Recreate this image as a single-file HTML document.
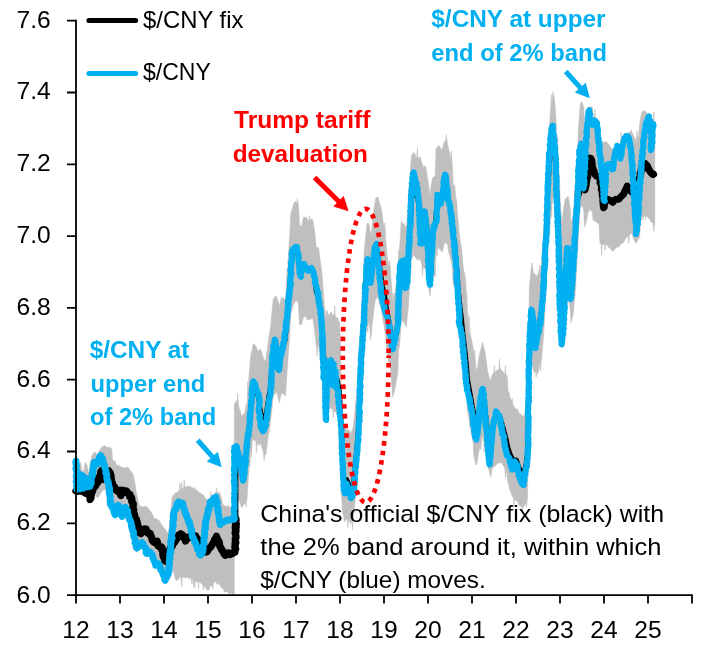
<!DOCTYPE html>
<html><head><meta charset="utf-8"><title>$/CNY fix and band</title>
<style>
html,body{margin:0;padding:0;background:#fff;}
svg{display:block;}
text{font-family:"Liberation Sans",sans-serif;font-size:23.7px;fill:#000;}
.ax text{font-size:24.6px;}
.b{font-weight:bold;}
.bl{fill:#00B0F0;}
.rd{fill:#FF0000;}
</style></head><body>
<svg width="706" height="647" viewBox="0 0 706 647">
<rect width="706" height="647" fill="#fff"/>
<path d="M75.9,457.7 L77.6,463.7 L79.3,470.5 L80.5,462.0 L81.9,470.5 L83.6,472.2 L85.3,462.0 L87.0,465.4 L88.7,473.9 L90.4,462.0 L92.1,455.2 L94.6,451.8 L97.2,455.2 L99.7,450.1 L102.3,446.7 L104.8,445.8 L107.4,447.5 L109.9,447.5 L111.6,448.4 L112.5,460.3 L115.0,461.1 L116.7,465.4 L119.3,465.4 L121.0,467.1 L124.4,467.9 L127.8,467.1 L130.3,470.5 L132.9,473.9 L134.6,480.7 L136.3,492.6 L138.0,501.1 L139.7,506.2 L143.1,507.0 L146.5,506.2 L149.0,509.6 L151.6,513.0 L154.1,518.1 L156.7,518.9 L159.2,520.6 L161.8,524.9 L164.3,528.3 L166.9,531.7 L168.6,533.4 L170.3,518.1 L172.0,497.7 L172.3,496.8 L175.7,492.5 L176.5,492.6 L177.4,491.7 L178.2,492.2 L179.1,490.1 L179.4,490.4 L179.9,483.3 L180.4,490.4 L180.8,490.0 L181.1,489.4 L181.6,482.2 L182.1,489.4 L182.5,488.3 L183.3,488.5 L183.7,487.7 L184.2,479.8 L184.7,487.7 L185.0,487.0 L185.9,486.6 L186.7,487.1 L187.6,485.8 L188.4,487.3 L189.3,485.9 L190.1,487.6 L191.0,486.6 L191.8,487.6 L192.7,488.6 L193.5,487.3 L194.4,489.0 L195.2,488.8 L196.1,490.0 L196.9,490.6 L197.8,490.8 L198.6,492.8 L199.5,492.5 L200.4,492.9 L201.4,494.1 L202.3,494.4 L203.3,495.0 L204.2,496.5 L205.2,498.2 L206.1,499.0 L207.0,499.8 L208.0,500.2 L209.0,499.4 L209.9,498.1 L210.4,497.3 L210.9,491.6 L211.4,497.3 L211.9,495.7 L212.8,495.7 L213.8,494.3 L214.8,493.4 L215.6,492.2 L216.0,493.1 L216.5,487.7 L217.0,493.1 L217.3,492.0 L218.2,493.0 L219.0,493.8 L219.9,492.5 L220.7,495.8 L221.6,498.4 L222.4,502.9 L223.3,505.3 L224.2,505.4 L225.2,506.3 L226.1,506.9 L227.1,505.7 L228.0,505.5 L229.0,507.0 L229.9,507.8 L230.8,506.9 L231.8,507.0 L232.1,507.0 L232.6,499.6 L233.1,507.0 L233.5,507.7 L234.3,507.0 L234.3,404.2 L235.2,403.0 L236.0,401.2 L236.9,400.8 L237.2,403.6 L237.7,393.4 L238.2,403.6 L238.6,405.6 L239.4,409.3 L240.3,410.5 L241.1,414.3 L242.0,416.0 L242.8,414.8 L243.7,414.2 L244.5,412.7 L245.4,410.3 L245.7,408.2 L246.2,403.8 L246.7,408.2 L247.1,405.9 L247.4,392.1 L247.9,381.4 L248.4,392.1 L248.8,378.4 L249.7,369.0 L250.5,358.0 L251.3,352.9 L252.2,349.9 L253.0,344.4 L253.9,343.9 L254.7,345.0 L255.6,346.0 L256.4,346.9 L257.3,350.3 L258.1,351.2 L259.0,350.3 L259.8,349.2 L260.7,349.5 L261.5,352.1 L262.4,354.3 L263.2,358.0 L264.1,359.9 L264.9,359.9 L265.8,361.4 L266.6,354.0 L267.5,348.9 L268.3,341.0 L269.1,335.9 L270.0,330.8 L270.9,324.0 L271.7,315.5 L272.5,306.0 L273.4,298.5 L274.3,298.5 L275.1,296.4 L276.0,296.0 L276.9,297.9 L277.7,300.2 L278.5,302.6 L279.4,307.0 L280.2,302.8 L281.1,298.5 L281.9,297.6 L282.8,298.5 L283.6,297.6 L284.5,300.0 L285.3,300.2 L285.9,293.4 L286.4,285.0 L286.8,272.2 L287.2,267.9 L287.8,272.2 L288.1,259.5 L289.0,246.3 L289.8,234.0 L290.7,215.3 L291.5,211.0 L292.4,208.4 L293.2,205.0 L294.1,202.9 L294.9,201.7 L295.8,201.7 L296.6,202.1 L297.0,202.8 L297.5,198.3 L298.0,202.8 L298.3,203.4 L298.9,213.4 L299.5,225.5 L300.2,225.3 L301.0,225.7 L301.7,225.5 L302.5,221.3 L303.4,217.8 L304.3,216.7 L305.1,218.0 L306.0,217.0 L306.9,218.3 L307.7,221.0 L308.5,220.5 L308.9,220.0 L309.4,215.8 L309.9,220.0 L310.2,219.5 L311.1,218.7 L311.9,220.2 L312.8,219.5 L313.6,225.5 L314.5,230.6 L315.4,238.0 L316.2,247.6 L317.0,247.6 L317.9,247.3 L318.7,248.4 L319.5,255.6 L320.4,261.2 L321.2,267.8 L322.1,274.8 L322.6,281.9 L323.2,290.0 L323.9,299.5 L324.5,308.0 L325.2,313.3 L326.0,318.0 L326.2,317.3 L326.7,310.4 L327.2,317.3 L326.8,316.7 L327.3,310.9 L327.8,316.7 L328.0,316.0 L328.8,313.9 L329.5,315.2 L330.2,313.0 L331.0,312.0 L331.8,313.1 L332.5,314.4 L333.2,315.0 L334.0,315.0 L334.2,315.8 L334.8,305.7 L335.2,315.8 L335.5,316.4 L336.2,317.2 L337.0,318.0 L337.8,318.4 L338.7,321.6 L339.5,322.0 L340.0,332.8 L340.5,345.0 L341.1,380.0 L341.2,398.0 L341.9,410.0 L342.5,420.0 L343.2,422.6 L343.8,427.1 L344.5,431.0 L345.2,429.9 L345.8,428.8 L346.5,428.0 L347.2,429.6 L347.8,430.0 L348.5,430.0 L349.3,430.4 L350.2,432.9 L351.0,433.0 L351.7,431.2 L352.5,429.6 L353.2,427.0 L354.0,419.6 L354.8,412.0 L355.6,403.0 L356.5,396.0 L357.2,386.0 L358.0,376.0 L358.8,364.7 L359.5,352.0 L360.2,336.0 L361.0,322.0 L361.8,307.2 L362.5,292.0 L363.0,281.6 L363.5,271.0 L364.2,251.0 L364.9,244.9 L365.6,237.0 L366.3,230.6 L367.0,224.0 L367.7,222.7 L368.4,223.4 L369.1,225.6 L369.9,229.8 L370.6,232.2 L371.3,237.0 L372.0,227.0 L372.7,220.1 L373.4,214.8 L374.1,208.4 L374.9,203.4 L375.6,198.5 L376.3,197.7 L377.0,197.6 L377.7,197.0 L378.4,198.6 L379.1,201.3 L379.8,204.3 L380.6,206.1 L381.3,208.4 L382.0,213.0 L382.7,219.8 L383.4,224.0 L384.1,227.0 L384.3,232.0 L384.8,222.8 L385.3,232.0 L385.5,237.0 L386.1,244.6 L386.7,251.0 L387.2,256.4 L387.7,259.7 L388.4,262.7 L389.0,265.3 L389.2,268.1 L389.8,260.3 L390.2,268.1 L390.5,271.0 L391.2,282.1 L391.9,290.1 L392.6,300.9 L392.9,297.9 L393.4,293.0 L393.9,297.9 L394.2,295.4 L395.0,291.8 L395.9,286.4 L396.9,279.6 L397.8,275.3 L398.6,251.0 L399.5,248.8 L400.4,236.4 L401.2,221.6 L402.1,222.3 L402.9,223.7 L403.8,223.3 L404.6,225.3 L405.5,226.3 L406.3,228.4 L407.1,219.6 L408.0,211.4 L408.4,196.9 L408.9,188.3 L409.4,196.9 L409.7,182.5 L410.5,169.1 L411.4,155.3 L412.3,154.9 L413.1,153.1 L414.0,152.7 L414.8,153.9 L415.7,156.5 L416.5,157.0 L416.9,157.8 L417.4,147.6 L417.9,157.8 L418.2,158.7 L419.1,157.6 L420.0,157.0 L420.8,159.3 L421.6,162.0 L422.5,164.4 L423.3,167.2 L424.1,167.4 L424.8,165.6 L425.6,166.3 L426.1,169.3 L426.7,172.3 L427.5,178.3 L428.4,184.2 L429.2,190.1 L430.1,196.0 L431.0,185.9 L431.9,182.1 L432.7,177.4 L433.5,177.4 L434.4,176.2 L435.2,175.7 L436.1,148.5 L436.9,147.0 L437.8,147.4 L438.6,145.0 L439.5,146.4 L440.3,147.6 L441.1,149.2 L442.0,150.2 L442.9,146.9 L443.7,143.4 L444.5,141.6 L445.4,140.0 L445.8,140.4 L446.2,134.4 L446.8,140.4 L447.1,140.8 L448.0,145.9 L448.8,150.2 L449.6,152.8 L450.5,157.0 L450.9,160.4 L451.4,151.2 L451.9,160.4 L452.2,163.8 L453.1,184.2 L454.0,185.1 L454.8,186.0 L455.6,196.0 L456.0,204.5 L456.5,199.3 L457.0,204.5 L457.3,213.0 L457.9,219.3 L458.5,225.0 L459.2,232.9 L459.9,238.6 L460.8,244.0 L461.6,248.8 L462.3,256.9 L463.0,265.0 L463.8,271.1 L464.7,274.1 L465.5,280.0 L466.2,289.6 L466.9,297.0 L467.5,314.0 L468.2,319.8 L468.5,325.3 L469.0,315.7 L469.5,325.3 L469.7,331.0 L470.6,335.8 L471.4,339.2 L472.2,342.8 L473.1,348.0 L474.0,353.9 L474.3,359.9 L474.8,350.1 L475.3,359.9 L475.6,364.9 L476.5,371.8 L477.4,367.6 L478.2,362.3 L479.1,356.5 L480.0,351.9 L480.8,349.9 L481.6,346.5 L482.5,342.0 L483.3,345.4 L484.2,349.1 L485.0,351.4 L485.9,358.4 L486.7,364.6 L487.6,371.8 L488.4,374.3 L489.3,378.1 L490.1,382.0 L491.0,379.0 L491.8,376.1 L492.7,374.3 L493.6,372.7 L493.9,372.6 L494.4,365.7 L494.9,372.6 L495.2,372.8 L496.1,371.0 L496.9,370.3 L497.8,370.0 L498.6,369.8 L499.0,368.9 L499.5,359.1 L500.0,368.9 L500.3,368.4 L501.1,369.5 L502.0,370.6 L502.9,372.1 L503.7,372.6 L504.6,374.3 L504.9,375.5 L505.4,365.4 L505.9,375.5 L506.3,377.0 L506.6,383.6 L507.1,374.9 L507.6,383.6 L508.0,390.2 L508.8,392.2 L509.7,396.4 L510.5,398.7 L511.4,400.4 L511.7,403.2 L512.2,398.1 L512.7,403.2 L513.1,405.5 L514.0,405.9 L514.8,407.7 L515.6,408.5 L516.5,409.0 L517.4,409.4 L518.2,410.4 L519.0,413.6 L519.9,414.0 L520.8,413.9 L521.6,414.6 L522.4,416.4 L523.3,415.7 L524.1,415.7 L525.0,412.9 L525.8,412.3 L526.6,409.4 L527.5,405.5 L527.8,380.0 L528.3,340.0 L529.0,310.0 L529.5,285.0 L530.3,278.1 L531.1,269.5 L531.9,263.0 L532.7,267.8 L533.5,274.0 L534.4,273.6 L535.3,275.0 L536.1,275.4 L537.0,275.2 L537.8,277.0 L538.5,272.4 L539.3,269.4 L540.0,265.0 L540.3,274.0 L541.1,265.8 L542.0,256.6 L542.6,247.7 L543.3,240.8 L544.0,229.3 L544.6,216.8 L545.5,193.8 L546.3,176.8 L547.2,160.3 L548.0,144.5 L548.9,133.1 L549.7,122.6 L550.6,110.5 L550.9,104.3 L551.4,94.7 L551.9,104.3 L552.3,98.9 L553.1,91.8 L554.0,96.7 L554.8,102.0 L555.6,114.2 L556.5,127.5 L556.9,144.5 L557.4,135.9 L557.9,144.5 L558.2,161.5 L558.5,178.2 L559.0,173.0 L559.5,178.2 L559.9,195.0 L560.8,209.3 L561.6,224.0 L562.5,217.9 L563.3,211.0 L564.1,205.3 L565.0,200.0 L565.9,198.0 L566.7,198.9 L567.5,196.5 L568.4,196.8 L569.2,202.1 L570.1,208.7 L571.0,224.0 L571.8,219.4 L572.7,216.7 L573.5,212.0 L574.4,200.0 L575.2,193.8 L576.0,178.2 L576.9,161.5 L577.8,145.6 L578.6,127.5 L579.5,114.8 L580.3,103.7 L581.1,102.3 L582.0,102.0 L582.9,105.1 L583.7,107.0 L584.6,124.0 L585.5,121.4 L586.3,119.0 L587.1,114.3 L588.0,108.8 L588.8,107.2 L589.7,107.5 L590.5,106.2 L591.4,107.1 L592.2,107.0 L593.1,117.3 L594.0,117.4 L594.3,118.2 L594.8,109.4 L595.3,118.2 L595.6,118.7 L596.5,119.0 L597.3,119.0 L598.2,121.1 L599.0,121.5 L599.9,141.0 L600.8,142.1 L601.6,142.3 L602.4,141.7 L603.3,142.8 L604.1,142.2 L605.0,142.2 L605.9,141.7 L606.7,142.0 L607.6,142.9 L608.4,144.4 L609.2,144.7 L610.1,146.2 L610.9,148.5 L611.8,148.0 L612.6,149.6 L613.5,147.7 L614.3,147.0 L615.2,146.2 L616.0,144.4 L616.9,145.1 L617.7,144.5 L618.6,144.3 L619.4,144.0 L620.3,142.8 L620.6,142.0 L621.1,132.4 L621.6,142.0 L622.0,141.9 L622.9,139.2 L623.7,139.4 L624.6,138.3 L625.4,137.2 L626.2,134.5 L627.1,134.3 L627.9,133.2 L628.8,132.1 L629.6,132.6 L630.5,132.3 L631.3,130.0 L632.1,132.8 L632.8,133.7 L633.6,136.0 L634.4,137.2 L635.3,138.9 L636.1,141.0 L636.5,139.3 L637.0,130.5 L637.5,139.3 L637.8,137.4 L638.7,136.0 L639.5,126.4 L640.4,119.0 L641.2,115.4 L642.1,112.2 L642.9,111.0 L643.8,111.0 L644.6,111.0 L645.5,111.8 L646.3,112.2 L647.1,114.6 L648.0,114.7 L649.0,116.8 L649.9,116.5 L650.9,117.3 L651.9,119.5 L652.9,119.2 L653.3,121.3 L653.8,111.9 L654.3,121.3 L654.8,122.4 L654.8,225.4 L654.3,224.4 L653.8,231.5 L653.3,224.4 L652.9,222.9 L651.9,222.2 L650.9,222.2 L649.9,219.1 L649.0,218.4 L648.0,218.0 L647.1,216.5 L646.3,215.6 L646.0,215.6 L645.5,219.6 L645.0,215.6 L644.6,214.7 L643.8,216.8 L643.4,215.6 L642.9,219.9 L642.4,215.6 L642.1,215.6 L641.2,220.0 L640.4,222.1 L640.0,230.3 L639.5,237.9 L639.0,230.3 L638.7,238.5 L637.8,239.9 L637.0,242.3 L636.1,243.3 L635.3,241.7 L634.4,240.9 L633.6,238.5 L632.8,236.4 L632.1,234.2 L631.3,232.7 L630.5,234.2 L629.6,235.2 L629.3,235.8 L628.8,243.4 L628.3,235.8 L627.9,236.5 L627.1,236.8 L626.2,238.6 L625.4,238.2 L624.6,240.0 L623.7,241.7 L622.9,243.6 L622.0,242.8 L621.1,243.4 L620.3,245.0 L619.4,246.4 L618.6,247.0 L617.7,246.6 L616.9,247.2 L616.0,248.3 L615.2,248.3 L614.3,249.7 L613.5,250.5 L612.6,251.5 L611.8,250.1 L610.9,249.5 L610.1,248.3 L609.2,247.3 L608.4,247.3 L607.6,246.0 L606.7,244.2 L605.9,245.0 L605.5,244.6 L605.0,250.4 L604.5,244.6 L604.1,244.5 L603.3,245.0 L602.4,243.5 L602.1,244.1 L601.6,255.1 L601.1,244.1 L600.8,243.9 L599.9,243.3 L599.0,224.5 L598.2,223.5 L597.3,223.0 L596.5,222.1 L595.6,222.2 L594.8,220.4 L594.0,219.9 L593.1,220.5 L592.2,210.6 L591.4,211.4 L590.5,209.8 L589.7,209.5 L588.8,211.8 L588.0,212.3 L587.1,217.7 L586.3,222.1 L585.5,223.7 L584.6,226.9 L583.7,210.6 L582.9,207.4 L582.0,205.8 L581.1,206.5 L580.3,207.4 L579.5,219.5 L578.6,230.3 L577.8,247.1 L576.9,263.0 L576.0,278.9 L575.2,294.0 L574.4,300.0 L573.5,311.5 L572.7,316.4 L571.8,319.3 L571.0,323.0 L570.1,308.3 L569.2,303.6 L568.4,296.9 L567.5,298.1 L567.2,298.4 L566.7,306.9 L566.2,298.4 L565.9,298.4 L565.0,300.0 L564.6,305.7 L564.1,312.2 L563.6,305.7 L563.3,311.3 L562.5,316.2 L561.6,323.0 L560.8,309.7 L559.9,295.2 L559.0,279.5 L558.2,263.0 L557.4,246.9 L556.5,230.3 L555.6,218.7 L554.8,205.8 L554.0,200.2 L553.1,196.0 L552.3,201.0 L551.9,208.0 L551.4,217.3 L550.9,208.0 L550.6,214.0 L550.2,224.9 L549.7,233.7 L549.2,224.9 L548.9,236.4 L548.0,246.6 L547.2,263.5 L546.3,278.2 L545.5,294.0 L544.6,316.2 L544.0,327.6 L543.3,339.2 L542.6,345.9 L542.0,354.4 L541.1,362.3 L540.3,371.0 L540.0,362.4 L539.3,366.2 L538.5,370.2 L537.8,373.9 L537.0,372.6 L536.6,372.7 L536.1,377.2 L535.6,372.7 L535.3,372.0 L534.4,372.2 L533.5,371.1 L532.7,365.2 L531.9,360.5 L531.1,367.5 L530.3,375.7 L529.5,381.6 L529.0,405.7 L528.3,434.5 L527.8,472.9 L527.5,497.4 L527.1,500.7 L526.6,507.3 L526.1,500.7 L525.8,503.9 L525.0,505.2 L524.1,506.3 L523.3,507.2 L522.9,506.8 L522.4,511.5 L521.9,506.8 L521.6,506.5 L520.8,506.6 L519.9,505.6 L519.0,505.0 L518.2,502.6 L517.4,501.6 L516.5,500.8 L515.6,500.7 L514.8,498.8 L514.5,498.2 L514.0,507.5 L513.5,498.2 L513.1,497.4 L512.2,496.1 L511.4,493.8 L510.5,490.9 L509.7,489.2 L508.8,484.7 L508.0,482.7 L507.1,475.7 L506.3,470.0 L505.9,468.6 L505.4,477.4 L504.9,468.6 L504.6,467.6 L503.7,465.8 L502.9,465.3 L502.0,462.8 L501.1,463.5 L500.3,461.8 L499.5,463.2 L498.6,463.0 L497.8,462.6 L496.9,464.7 L496.1,464.3 L495.2,466.1 L494.4,466.4 L493.6,467.2 L492.7,467.4 L491.8,469.9 L491.5,472.4 L491.0,476.9 L490.5,472.4 L490.1,474.8 L489.3,471.4 L488.4,468.1 L487.6,465.0 L486.7,459.2 L485.9,452.3 L485.0,445.4 L484.7,442.4 L484.2,451.8 L483.7,442.4 L483.3,439.1 L482.5,436.4 L481.6,439.0 L481.3,443.4 L480.8,449.9 L480.3,443.4 L480.0,446.8 L479.1,450.3 L478.2,454.6 L477.4,460.9 L476.5,465.0 L476.1,459.3 L475.6,464.8 L475.1,459.3 L475.3,453.6 L474.8,460.4 L474.3,453.6 L474.5,447.9 L474.0,457.3 L473.5,447.9 L473.1,442.2 L472.2,437.3 L471.4,434.3 L470.6,429.3 L469.7,425.8 L469.0,419.2 L468.2,414.8 L467.5,409.5 L466.9,393.2 L466.2,386.1 L465.5,376.8 L464.7,371.7 L463.8,366.1 L463.0,362.4 L462.3,354.8 L461.6,346.9 L460.8,342.4 L459.9,337.1 L459.2,329.5 L458.5,324.0 L457.9,317.6 L457.3,312.5 L456.5,303.5 L455.6,296.1 L454.8,286.5 L454.0,284.5 L453.1,284.8 L452.2,265.2 L451.4,261.4 L450.5,258.7 L449.6,255.3 L448.8,252.1 L448.0,246.9 L447.1,243.1 L446.2,243.5 L445.4,242.3 L444.5,243.2 L443.7,245.6 L442.9,249.6 L442.0,252.1 L441.1,250.8 L440.3,249.6 L439.5,249.4 L438.6,247.1 L437.8,247.6 L437.4,249.4 L436.9,255.8 L436.4,249.4 L436.1,250.5 L435.2,276.6 L434.4,276.4 L433.5,276.6 L432.7,278.3 L431.9,282.7 L431.0,286.4 L430.1,296.1 L429.2,291.4 L428.4,284.8 L427.5,280.2 L426.7,273.4 L426.1,270.8 L425.6,267.6 L424.8,269.0 L424.1,268.0 L423.3,268.5 L423.0,266.0 L422.5,275.7 L422.0,266.0 L421.6,263.5 L420.8,261.3 L420.0,258.7 L419.1,259.1 L418.2,260.3 L417.4,260.3 L416.5,258.7 L415.7,257.3 L414.8,256.5 L414.0,254.5 L413.1,256.5 L412.3,257.1 L411.4,257.0 L410.5,271.1 L409.7,283.2 L408.9,297.8 L408.0,310.9 L407.1,318.6 L406.3,327.3 L405.5,324.8 L404.6,323.9 L403.8,322.4 L402.9,320.8 L402.1,320.9 L401.2,320.7 L400.4,333.7 L399.5,346.9 L398.6,349.0 L397.8,372.3 L396.9,377.6 L395.9,383.5 L395.0,388.2 L394.2,391.9 L393.4,394.4 L392.6,396.9 L391.9,386.7 L391.2,378.6 L390.5,368.2 L389.8,365.2 L389.0,362.7 L388.4,360.4 L387.7,357.3 L387.2,352.4 L386.7,349.0 L386.1,342.8 L385.5,335.5 L384.8,331.6 L384.1,325.9 L383.4,321.5 L382.7,319.0 L382.0,313.4 L381.3,308.0 L380.6,306.4 L379.8,304.0 L379.1,301.2 L378.4,299.0 L377.7,297.1 L377.0,296.7 L376.3,299.2 L375.6,298.5 L374.9,302.8 L374.1,308.0 L373.4,315.1 L372.7,319.5 L372.0,325.9 L371.3,335.5 L371.1,332.1 L370.6,339.7 L370.1,332.1 L369.9,328.6 L369.1,324.4 L368.4,322.4 L368.2,322.7 L367.7,332.7 L367.2,322.7 L367.0,323.0 L366.3,330.5 L365.6,335.5 L364.9,341.1 L364.2,349.0 L363.5,368.2 L363.0,377.9 L362.5,388.4 L361.8,402.4 L361.0,417.2 L360.8,431.6 L360.2,438.6 L359.8,431.6 L359.5,446.0 L358.8,458.6 L358.0,469.1 L357.2,478.5 L356.5,488.3 L355.6,495.6 L354.8,503.7 L354.0,511.6 L353.2,518.1 L353.0,520.0 L352.5,530.0 L352.0,520.0 L351.7,520.9 L351.0,523.8 L350.2,521.7 L349.3,521.8 L348.5,520.9 L348.3,520.3 L347.8,527.4 L347.3,520.3 L347.2,519.3 L346.5,519.0 L345.8,519.7 L345.2,520.3 L344.5,521.9 L343.8,517.6 L343.2,514.5 L342.5,511.3 L341.9,500.7 L341.2,490.2 L341.1,472.9 L340.5,439.3 L340.0,429.2 L339.5,417.2 L338.7,417.1 L337.8,414.4 L337.0,413.3 L336.2,412.0 L335.5,412.2 L334.8,411.9 L334.0,410.5 L333.8,409.7 L333.2,417.6 L332.8,409.7 L332.5,408.4 L331.8,409.2 L331.0,407.6 L330.2,408.7 L329.5,408.8 L328.8,411.3 L328.0,411.4 L327.3,411.2 L327.2,412.7 L326.7,418.3 L326.2,412.7 L326.0,413.3 L325.2,409.3 L324.5,403.7 L323.9,395.7 L323.2,386.4 L322.6,379.1 L322.1,371.8 L321.2,366.4 L320.4,358.8 L319.5,353.3 L318.7,346.5 L317.9,346.8 L317.5,346.0 L317.0,355.9 L316.5,346.0 L316.2,345.7 L315.4,337.3 L314.5,329.4 L313.6,323.3 L312.8,318.7 L311.9,317.8 L311.1,319.3 L310.2,318.7 L309.4,320.2 L308.5,318.9 L307.7,320.1 L306.9,319.4 L306.0,316.3 L305.1,315.8 L304.3,317.2 L303.4,317.1 L302.5,321.3 L301.7,324.5 L301.0,323.6 L300.2,325.1 L299.5,324.5 L298.9,313.5 L298.3,303.2 L297.5,301.6 L296.6,301.0 L295.8,301.6 L294.9,301.6 L294.1,303.3 L293.2,304.8 L292.4,308.7 L291.5,311.6 L290.7,314.7 L289.8,332.6 L289.0,345.2 L288.1,357.1 L287.2,369.7 L286.4,381.6 L285.9,389.1 L285.3,396.2 L284.5,395.2 L283.6,393.7 L282.8,393.6 L281.9,393.8 L281.1,394.6 L280.2,398.1 L279.4,402.8 L278.5,399.4 L277.7,396.2 L276.9,393.8 L276.0,392.2 L275.1,392.8 L274.3,395.0 L273.4,394.6 L272.5,403.4 L271.7,410.9 L270.9,417.6 L270.0,425.6 L269.1,431.2 L268.3,435.4 L267.5,442.0 L266.6,448.3 L265.8,455.0 L264.9,454.9 L264.6,452.9 L264.1,460.7 L263.6,452.9 L263.2,451.8 L262.4,448.4 L261.5,446.3 L260.7,443.6 L259.8,443.2 L259.0,445.1 L258.1,445.2 L257.3,443.1 L256.9,441.9 L256.4,452.7 L255.9,441.9 L255.6,440.2 L254.7,440.7 L253.9,440.0 L253.0,438.7 L252.2,442.3 L251.8,447.4 L251.3,457.1 L250.8,447.4 L250.5,451.8 L250.2,461.6 L249.7,467.3 L249.2,461.6 L248.8,471.4 L247.9,484.0 L247.1,497.8 L246.7,500.0 L246.2,507.1 L245.7,500.0 L245.4,502.9 L244.5,504.3 L243.7,504.7 L242.8,505.4 L242.0,507.5 L241.1,506.5 L240.3,503.7 L239.4,501.1 L238.6,499.0 L237.7,496.7 L236.9,492.9 L236.0,494.4 L235.2,494.1 L234.3,496.2 L234.3,593.7 L233.4,594.3 L232.5,594.3 L231.5,592.8 L230.6,593.5 L230.2,592.8 L229.7,594.3 L229.2,592.8 L228.7,593.4 L227.8,592.3 L226.9,591.2 L225.9,592.0 L225.0,592.0 L224.1,591.7 L223.3,588.8 L222.4,587.4 L221.6,588.6 L220.7,586.0 L219.9,585.2 L219.0,584.3 L218.2,583.1 L217.3,584.5 L216.5,582.9 L215.6,582.0 L214.8,581.8 L213.8,582.4 L213.3,584.2 L212.8,589.5 L212.3,584.2 L211.9,586.1 L210.9,585.5 L209.9,586.9 L209.0,590.1 L208.0,590.3 L207.0,590.1 L206.1,588.6 L205.2,587.8 L204.2,585.9 L203.8,585.6 L203.3,590.2 L202.8,585.6 L202.3,584.6 L201.4,583.8 L200.4,582.5 L199.5,581.8 L199.0,581.4 L198.5,588.7 L198.0,581.4 L197.6,582.0 L196.7,581.4 L195.7,581.4 L195.3,579.9 L194.8,587.5 L194.3,579.9 L194.3,579.5 L193.8,587.6 L193.3,579.5 L192.9,579.8 L192.4,578.8 L191.9,584.2 L191.4,578.8 L191.0,578.4 L190.1,577.6 L189.1,579.3 L188.2,577.3 L187.3,577.5 L186.4,577.4 L185.4,578.1 L184.5,577.4 L183.6,577.2 L182.6,576.9 L182.2,577.6 L181.7,586.8 L181.2,577.6 L180.8,577.5 L179.9,577.2 L179.1,578.4 L178.2,579.1 L177.4,580.2 L176.5,580.6 L175.7,580.1 L172.3,566.5 L171.4,569.9 L165.5,580.1 L145.6,548.7 L137.1,548.7 L133.7,535.1 L128.6,516.4 L121.0,516.4 L110.8,504.5 L106.5,491.7 L104.0,489.2 L100.6,493.4 L98.0,497.7 L93.8,495.1 L91.2,492.6 L88.7,489.2 L87.0,491.7 L75.9,491.7Z" fill="#BFBFBF" stroke="#BFBFBF" stroke-width="0.6" stroke-linejoin="round"/>
<path d="M236.1,519.0 L236.1,449.0 L236.9,447.2 L239.4,456.5 L242.0,468.5 L244.5,465.4 L247.1,446.6 L248.8,428.2 L250.5,409.1 L253.0,387.6 L255.6,389.4 L258.1,395.8 L260.7,411.6 L263.2,419.5 L265.8,416.3 L268.3,398.9 L270.0,388.8 L271.7,367.8 L273.4,347.4 L276.0,345.0 L277.7,357.2 L279.4,360.7 L281.1,350.7 L283.6,344.9 L285.3,339.9 L286.4,327.8 L288.1,306.6 L289.8,286.3 L290.7,270.4 L293.2,252.0 L295.8,249.2 L298.3,254.8 L299.5,271.1 L301.7,273.0 L303.4,266.2 L306.0,267.1 L307.7,270.7 L310.2,268.8 L312.8,270.0 L314.5,279.0 L316.2,291.7 L318.7,299.0 L320.4,309.3 L322.1,328.3 L323.2,351.4 L324.5,360.3 L326.0,391.5 L328.0,373.0 L331.0,359.9 L334.0,372.2 L337.0,378.7 L339.5,391.2 L340.5,406.7 L341.1,426.2 L341.2,434.8 L342.5,463.1 L344.5,485.7 L346.5,479.3 L348.5,483.3 L351.0,489.4 L353.2,485.1 L354.8,468.3 L356.5,450.3 L358.0,432.6 L359.5,406.1 L361.0,366.9 L362.5,339.3 L363.5,323.7 L364.2,308.4 L365.6,285.2 L367.0,268.0 L368.4,269.5 L369.9,279.4 L371.3,279.4 L372.0,272.1 L374.1,255.8 L375.6,247.2 L377.7,252.3 L379.1,261.4 L381.3,277.2 L382.7,286.7 L384.1,292.9 L385.5,300.4 L386.7,308.7 L387.7,314.0 L389.0,320.4 L390.5,329.3 L392.6,348.9 L395.0,340.0 L397.8,323.8 L398.6,300.0 L399.5,287.8 L401.2,266.8 L403.8,267.1 L406.3,282.0 L408.0,263.8 L409.7,232.4 L411.4,200.2 L414.0,187.7 L416.5,195.3 L418.2,202.0 L420.0,217.3 L421.6,229.7 L423.3,227.4 L425.6,217.2 L426.7,225.6 L428.4,249.4 L430.1,265.1 L431.0,252.6 L432.7,231.5 L435.2,225.1 L436.1,212.4 L438.6,197.0 L440.3,200.5 L442.0,198.9 L443.7,189.1 L445.4,182.3 L447.1,190.5 L448.8,201.0 L450.5,209.7 L452.2,220.0 L453.1,233.3 L454.8,243.8 L455.6,253.3 L457.3,274.4 L458.5,290.2 L459.9,304.4 L461.6,318.1 L463.0,332.6 L465.5,353.8 L466.9,368.5 L467.5,378.1 L469.7,390.5 L473.1,409.4 L476.5,428.6 L479.1,410.9 L482.5,388.8 L485.0,407.0 L487.6,431.3 L490.1,445.2 L492.7,425.4 L496.1,414.8 L500.3,417.2 L503.7,429.4 L506.3,439.0 L508.0,447.5 L510.5,454.9 L513.1,460.1 L516.5,459.8 L519.9,469.7 L523.3,473.8 L525.8,464.9 L527.5,453.1 L527.8,439.7 L528.3,406.6 L529.0,360.0 L529.5,340.2 L531.9,312.0 L533.5,322.8 L535.3,336.7 L537.8,331.0 L540.0,319.4 L540.3,322.5 L542.0,305.5 L543.3,290.0 L544.6,266.5 L545.5,246.4 L548.0,189.6 L550.6,149.7 L553.1,137.5 L554.8,151.6 L556.5,186.3 L558.2,223.8 L559.9,278.0 L561.6,311.4 L565.0,271.7 L568.4,252.3 L570.1,274.8 L571.0,285.0 L573.5,261.6 L574.4,247.9 L575.2,237.6 L576.9,209.4 L578.0,195.0" fill="none" stroke="#000" stroke-width="4.6" stroke-linejoin="round" stroke-linecap="round"/>
<path d="M75.9,490.9 L77.0,491.3 L78.9,491.2 L80.9,491.0 L81.9,490.3 L83.4,491.7 L85.5,493.1 L86.4,492.4 L87.6,494.1 L88.4,494.6 L90.0,495.3 L90.1,498.4 L90.1,499.5 L91.0,497.6 L90.8,497.2 L91.2,495.5 L90.9,494.3 L91.5,493.0 L92.0,492.3 L92.8,490.2 L93.0,488.9 L94.2,487.3 L95.7,485.6 L95.6,484.8 L95.7,483.7 L95.7,482.1 L96.1,480.2 L96.5,479.0 L97.1,479.9 L97.6,482.7 L98.4,481.3 L99.2,480.0 L98.6,478.0 L99.5,476.6 L100.2,476.3 L100.5,474.3 L101.0,472.5 L100.8,471.7 L101.7,470.5 L101.2,471.6 L101.6,472.9 L101.6,474.4 L102.1,476.3 L102.6,477.3 L104.0,479.4 L105.0,478.0 L105.6,477.1 L105.4,475.7 L106.3,473.9 L108.1,472.5 L108.7,470.7 L109.1,471.6 L110.3,472.9 L110.5,474.7 L111.1,476.0 L110.4,476.8 L111.1,477.6 L111.3,479.8 L111.8,481.7 L111.3,482.0 L112.4,483.1 L112.6,485.1 L113.2,486.6 L114.6,486.8 L115.5,489.6 L117.2,490.6 L117.7,491.5 L119.7,490.4 L119.7,492.5 L120.5,492.9 L120.7,495.2 L121.0,495.5 L121.1,494.4 L122.6,492.8 L122.4,492.0 L123.1,490.4 L124.3,490.9 L126.3,490.8 L127.0,491.9 L128.7,494.1 L130.0,494.5 L129.8,496.8 L131.6,497.6 L131.8,499.6 L132.0,501.0 L131.7,501.4 L132.3,502.6 L133.3,503.8 L133.2,505.1 L133.0,506.8 L132.9,508.2 L133.4,509.1 L133.7,510.1 L133.3,511.6 L133.6,512.6 L134.6,514.8 L134.2,515.3 L134.7,516.7 L135.2,518.1 L136.3,519.2 L136.5,520.8 L137.0,521.3 L137.4,523.9 L137.6,524.2 L138.0,526.2 L138.3,526.7 L139.0,529.3 L138.8,530.1 L139.2,532.4 L140.9,533.6 L142.1,531.2 L142.9,529.6 L144.5,529.0 L146.1,529.1 L146.2,530.0 L147.0,532.4 L147.5,533.0 L148.9,532.9 L150.2,533.5 L150.1,534.7 L150.9,535.6 L151.5,537.1 L152.0,539.0 L152.4,540.4 L153.9,542.3 L155.5,541.8 L157.1,541.2 L157.6,543.3 L157.9,545.7 L159.7,546.7 L161.0,546.7 L162.1,547.7 L161.7,549.9 L162.7,550.6 L163.9,551.8 L163.6,553.6 L162.8,553.9 L163.3,556.8 L164.1,557.1 L164.6,559.7 L165.1,561.0 L166.0,560.0 L167.2,557.3 L168.1,556.5 L168.3,555.5 L168.0,553.6 L168.5,552.4 L168.9,550.9 L170.2,549.7 L170.2,548.5 L170.3,548.2 L172.3,546.0 L172.6,545.1 L173.3,543.0 L174.5,542.4 L175.4,540.7 L175.6,539.8 L177.4,538.2 L178.5,535.3 L179.3,534.6 L180.8,533.8 L181.8,534.4 L183.2,535.5 L183.5,536.5 L183.8,537.6 L185.1,539.2 L185.5,541.0 L186.3,539.7 L187.5,538.5 L188.8,537.0 L190.2,536.9 L192.3,537.6 L193.3,536.7 L194.0,535.6 L195.7,535.9 L196.1,537.6 L197.2,538.6 L198.2,540.6 L199.7,540.4 L200.5,541.9 L201.1,543.5 L201.0,545.2 L202.4,546.4 L203.0,547.1 L202.8,548.3 L203.6,550.0 L203.9,551.5 L204.4,552.1 L205.8,551.7 L207.1,551.8 L208.1,549.7 L209.8,547.5 L210.9,546.8 L212.1,544.7 L213.2,542.9 L214.0,542.0 L214.2,540.9 L214.7,539.6 L215.4,538.7 L216.5,536.4 L217.0,538.8 L217.9,539.6 L218.0,540.8 L219.1,541.7 L219.4,544.1 L219.2,544.6 L220.0,546.5 L221.0,548.1 L220.9,548.2 L221.8,550.0 L222.6,550.6 L223.9,553.5 L225.4,555.3 L226.7,554.4 L227.1,553.5 L228.6,553.0 L230.0,554.4 L231.5,553.1 L232.5,553.5 L234.3,551.9 L234.9,551.9 L234.9,550.9 L235.0,549.7 L235.7,548.9 L234.9,546.7 L235.2,546.1 L235.2,544.3 L235.2,543.0 L235.8,542.5 L235.3,541.3 L235.5,539.8 L235.3,538.6 L236.0,537.8 L235.9,535.6 L235.6,534.7 L235.2,533.5 L235.2,532.1 L236.0,531.5 L235.9,529.4 L235.3,528.1 L235.3,527.0 L236.2,526.9 L235.5,524.7 L236.3,524.0 L235.7,522.6 L235.6,521.6 L236.1,520.2 L235.9,519.0" fill="none" stroke="#000" stroke-width="7.3" stroke-linejoin="round" stroke-linecap="round"/>
<path d="M578.0,195.0 L578.5,193.2 L578.4,193.2 L578.1,191.2 L578.8,189.8 L579.3,188.7 L579.0,188.1 L578.7,186.8 L578.9,184.8 L579.5,183.7 L579.2,182.2 L579.7,181.9 L580.4,180.1 L580.8,179.2 L580.5,176.8 L581.1,175.7 L580.8,175.4 L582.2,173.4 L582.1,172.3 L582.6,173.3 L582.4,174.2 L582.2,175.9 L582.3,176.5 L582.6,178.9 L582.7,180.3 L583.3,181.3 L583.6,181.8 L583.0,184.3 L583.9,184.4 L584.0,185.5 L583.6,186.9 L584.0,188.6 L584.9,189.9 L585.6,187.7 L585.6,186.1 L586.2,185.6 L586.2,184.1 L586.2,183.3 L586.7,181.3 L586.9,180.2 L586.9,178.8 L587.5,177.8 L587.9,176.8 L587.2,176.0 L587.9,175.0 L587.5,173.7 L588.4,171.7 L588.1,171.0 L588.0,170.1 L588.7,168.9 L588.6,167.1 L588.5,165.6 L589.2,165.3 L588.7,162.7 L588.8,162.1 L589.7,160.5 L589.5,159.8 L590.1,158.0 L590.9,158.5 L591.4,159.5 L592.0,161.3 L591.5,162.4 L592.4,164.2 L591.8,165.4 L592.0,166.4 L592.7,168.1 L593.0,168.1 L593.2,169.6 L594.1,170.7 L594.3,173.0 L594.9,174.3 L596.2,175.9 L598.1,176.6 L599.1,177.6 L599.7,178.7 L600.4,180.0 L600.0,182.6 L601.2,183.0 L601.0,185.2 L601.6,185.6 L601.6,187.8 L601.3,189.2 L602.0,189.3 L602.4,190.4 L602.1,192.4 L602.1,194.1 L602.7,194.2 L602.2,195.3 L602.8,196.8 L602.8,199.1 L603.3,199.4 L602.8,201.1 L603.0,202.4 L603.2,204.3 L603.1,204.9 L603.3,206.0 L603.6,207.7 L604.3,207.1 L603.9,205.0 L604.8,204.2 L604.4,203.1 L605.1,202.2 L605.8,201.1 L606.1,199.9 L607.4,199.1 L608.8,199.9 L610.6,200.6 L612.7,202.3 L614.2,200.4 L615.9,199.3 L617.5,199.4 L619.0,199.1 L621.2,196.4 L623.3,194.5 L623.5,194.3 L624.3,192.5 L625.0,190.8 L626.1,188.9 L626.4,188.0 L627.2,186.0 L627.9,188.5 L628.7,189.4 L630.1,190.4 L632.0,192.1 L633.6,191.8 L634.9,191.1 L636.4,189.7 L636.7,188.8 L636.4,187.0 L637.3,186.5 L636.9,185.1 L637.2,183.6 L638.1,182.7 L638.0,180.6 L638.7,180.5 L639.3,178.5 L639.4,177.8 L640.1,176.2 L640.4,174.7 L640.1,173.4 L641.0,173.0 L641.0,171.4 L641.0,169.9 L641.7,168.5 L641.8,167.5 L642.7,166.2 L644.0,164.7 L645.4,163.7 L646.7,165.2 L647.7,166.5 L647.9,169.0 L649.0,169.1 L650.1,171.8 L651.6,173.6 L653.1,174.5 L653.6,174.2" fill="none" stroke="#000" stroke-width="7" stroke-linejoin="round" stroke-linecap="round"/>
<path d="M76.0,461.0 L75.8,461.6 L75.8,463.6 L76.5,463.9 L76.5,466.2 L76.4,466.5 L75.8,468.6 L76.4,469.3 L76.2,470.0 L76.9,472.4 L76.9,473.6 L76.4,474.9 L76.2,475.8 L76.2,476.6 L76.9,477.9 L77.0,479.3 L76.4,480.0 L76.1,481.7 L77.1,482.4 L76.7,484.8 L76.7,485.9 L77.2,486.5 L77.0,487.0 L76.9,489.3 L76.7,487.0 L76.5,485.8 L76.8,485.5 L77.1,483.8 L77.0,482.2 L77.4,481.6 L77.0,479.9 L77.6,479.4 L77.3,477.2 L77.7,475.6 L77.8,475.6 L77.5,473.5 L77.4,472.3 L78.4,473.6 L77.6,474.6 L78.1,476.6 L78.0,477.4 L78.5,478.1 L78.7,479.9 L78.1,481.6 L78.1,481.9 L78.2,484.0 L78.1,484.9 L78.3,486.3 L78.3,487.9 L79.1,488.5 L78.6,487.7 L79.1,485.7 L79.1,485.6 L79.3,483.9 L79.4,482.8 L78.8,481.2 L79.3,480.4 L79.6,479.5 L79.1,477.8 L79.7,476.7 L79.2,476.2 L79.5,474.0 L79.7,475.3 L79.5,477.2 L80.2,478.1 L79.6,479.5 L79.9,480.7 L79.8,482.6 L79.9,482.8 L80.5,485.1 L80.1,485.6 L80.5,488.0 L80.2,488.8 L80.3,487.8 L80.6,486.1 L80.9,485.1 L80.5,483.7 L81.4,483.0 L81.0,481.6 L80.7,480.0 L81.6,478.4 L81.7,478.2 L81.5,476.2 L81.0,474.9 L81.7,476.3 L81.9,477.2 L82.0,479.4 L82.0,479.6 L81.5,480.6 L81.4,482.9 L82.0,484.1 L81.8,484.7 L82.6,486.9 L81.8,487.8 L82.4,487.9 L82.5,487.0 L82.3,486.8 L82.8,484.2 L82.9,482.9 L83.2,482.5 L83.0,480.4 L82.5,480.0 L82.9,479.2 L82.9,477.3 L82.8,476.2 L83.8,477.2 L83.7,478.3 L83.9,480.2 L83.2,481.9 L84.1,482.2 L83.4,483.7 L83.9,486.1 L84.4,486.4 L83.6,488.1 L84.3,486.3 L84.4,486.1 L84.1,483.9 L84.9,482.3 L84.3,481.1 L85.1,479.7 L84.5,479.2 L85.3,478.1 L85.0,479.5 L84.9,480.0 L85.2,481.4 L85.1,482.0 L86.1,483.4 L85.7,485.5 L85.6,485.9 L86.0,486.7 L85.5,486.1 L86.1,484.0 L86.1,483.5 L86.8,481.9 L86.4,481.1 L86.5,479.6 L86.6,481.1 L87.4,481.6 L87.2,483.0 L87.6,484.2 L87.8,484.7 L87.6,486.9 L87.9,485.8 L88.2,483.4 L88.8,482.1 L88.6,481.0 L89.2,481.6 L89.4,483.4 L89.1,484.2 L90.0,486.4 L90.0,483.8 L90.9,481.6 L90.8,484.2 L91.4,482.1 L90.9,480.9 L91.2,479.8 L91.2,478.5 L91.7,477.3 L92.3,476.5 L91.8,475.6 L92.7,474.0 L92.1,473.2 L93.0,472.3 L93.2,470.6 L93.0,468.9 L93.0,468.5 L93.7,466.5 L93.5,465.3 L94.4,464.0 L93.9,463.0 L94.5,462.3 L96.0,462.8 L97.7,464.2 L97.2,462.0 L98.0,460.5 L98.7,460.3 L98.7,459.2 L99.8,456.5 L100.7,455.5 L101.7,457.6 L102.7,458.5 L102.6,459.2 L103.1,460.7 L103.2,462.9 L103.5,463.1 L104.5,465.2 L104.6,466.9 L104.7,467.3 L105.4,468.5 L105.9,471.1 L106.3,472.3 L105.7,472.8 L106.8,474.7 L106.8,475.6 L106.7,476.2 L106.7,478.4 L107.2,479.7 L107.1,480.7 L107.9,480.7 L108.3,482.9 L108.6,484.1 L108.8,485.5 L108.7,487.0 L109.1,487.1 L109.7,488.4 L109.3,490.2 L109.8,490.9 L109.1,492.5 L109.8,493.9 L109.6,495.3 L110.2,496.5 L110.3,497.5 L110.2,499.0 L110.0,499.9 L110.7,501.3 L110.2,501.8 L111.1,503.7 L110.4,504.5 L111.8,506.3 L112.1,506.4 L112.4,507.6 L113.0,508.9 L114.0,511.2 L114.1,512.7 L114.2,513.0 L115.2,514.7 L115.0,513.9 L115.9,512.1 L115.9,510.8 L116.0,509.0 L116.9,508.0 L117.6,505.5 L118.3,505.2 L119.2,506.2 L118.5,506.3 L118.9,508.6 L119.1,508.9 L119.4,510.9 L119.9,512.3 L119.7,512.3 L121.4,514.1 L122.1,516.5 L122.4,514.3 L123.8,512.3 L124.4,511.0 L124.0,510.7 L124.4,509.9 L125.2,507.2 L126.6,509.7 L127.7,510.6 L127.5,512.4 L128.1,514.0 L128.1,514.8 L129.0,517.0 L129.0,518.4 L129.2,519.4 L130.3,520.3 L130.5,520.8 L131.1,523.0 L131.3,524.2 L131.3,525.8 L132.1,526.8 L131.9,528.0 L132.3,529.4 L132.3,529.7 L132.7,531.3 L133.6,531.9 L133.6,533.2 L133.6,534.8 L133.6,536.3 L134.1,537.2 L134.6,538.3 L135.2,539.6 L135.5,540.7 L135.7,541.7 L134.9,543.0 L136.1,544.5 L136.1,546.4 L136.2,547.5 L137.0,548.2 L138.4,546.8 L138.6,545.6 L140.9,543.2 L141.9,542.6 L143.0,543.6 L143.9,545.8 L144.7,547.4 L145.7,548.1 L145.9,550.5 L146.3,551.1 L146.0,552.8 L146.7,553.5 L147.9,552.8 L149.2,551.7 L150.6,552.6 L151.6,554.5 L152.7,555.8 L152.8,557.7 L153.5,558.7 L153.7,559.8 L153.9,560.4 L154.4,561.6 L155.6,563.7 L155.7,565.3 L157.4,564.0 L158.3,563.6 L158.8,564.1 L159.8,565.9 L160.4,568.0 L160.5,569.1 L161.6,570.8 L162.5,572.3 L163.3,573.7 L163.1,574.7 L164.3,576.4 L164.9,577.2 L164.5,579.1 L165.3,580.3 L165.9,578.2 L167.3,576.1 L167.3,574.8 L168.3,574.4 L168.4,572.6 L169.1,570.9 L169.1,569.3 L169.1,568.1 L168.6,567.9 L168.9,566.7 L169.5,564.9 L169.6,564.0 L169.2,562.7 L169.4,560.0 L170.1,558.7 L169.7,558.5 L169.6,557.0 L170.1,555.6 L169.7,554.3 L170.5,552.2 L170.7,552.1 L170.1,550.7 L170.9,548.2 L170.8,548.1 L170.9,545.5 L170.7,545.0 L170.8,543.5 L170.6,541.6 L171.0,541.0 L171.5,540.6 L171.1,538.4 L172.1,537.9 L171.4,536.5 L171.6,535.6 L171.9,533.9 L172.3,532.5 L172.1,531.0 L172.3,530.0 L172.5,528.7 L172.7,527.5 L173.3,525.9 L172.9,524.7 L173.0,523.1 L172.8,522.0 L172.9,520.8 L173.7,519.8 L173.7,517.7 L173.0,516.5 L173.7,515.2 L173.3,515.3 L173.7,512.7 L174.0,512.4 L174.6,510.3 L175.3,508.9 L176.2,508.9 L176.1,507.1 L177.3,505.9 L177.0,503.8 L177.8,502.5 L178.6,501.9 L179.3,503.6 L180.5,504.5 L182.5,503.0 L183.2,505.2 L183.0,506.0 L183.6,508.1 L184.4,509.4 L184.9,510.4 L184.8,511.8 L185.3,513.0 L186.1,513.8 L186.1,515.3 L187.0,516.8 L187.0,517.5 L188.0,519.8 L188.2,521.2 L189.4,521.3 L189.5,523.0 L189.3,524.0 L190.0,525.0 L190.7,527.0 L190.7,529.0 L191.7,529.7 L191.3,531.3 L191.7,533.1 L192.0,533.3 L192.0,534.7 L192.4,537.2 L193.4,538.1 L194.0,539.5 L194.4,540.1 L194.6,542.0 L195.8,542.8 L196.0,544.1 L196.3,545.8 L197.4,547.7 L197.4,547.5 L197.6,549.7 L198.9,550.2 L199.4,552.6 L199.3,553.9 L200.4,555.1 L202.2,553.2 L202.7,552.1 L202.4,550.3 L203.3,548.9 L202.9,547.5 L203.1,546.9 L203.2,545.5 L203.9,544.2 L204.1,543.1 L203.8,542.2 L204.1,540.5 L203.8,540.0 L203.9,537.8 L204.5,537.4 L204.3,534.9 L204.8,534.9 L204.6,533.7 L204.6,532.2 L204.4,530.6 L205.4,528.8 L205.5,528.0 L205.0,525.9 L205.5,525.1 L205.5,523.5 L205.2,522.2 L206.1,521.0 L206.0,520.5 L206.2,519.1 L206.6,518.3 L206.8,516.4 L207.7,515.0 L207.6,514.3 L207.7,513.1 L208.4,511.4 L208.3,509.5 L209.2,509.4 L209.0,507.1 L209.7,506.4 L210.2,505.0 L210.4,503.4 L210.0,501.9 L212.0,500.8 L212.8,500.1 L214.4,497.8 L215.9,497.1 L215.8,498.1 L216.1,500.1 L217.1,501.4 L217.3,502.4 L216.7,504.3 L216.8,505.1 L217.5,506.8 L217.8,507.8 L217.6,510.0 L218.2,510.1 L218.2,511.3 L218.1,513.2 L218.4,513.9 L218.6,514.9 L219.1,516.2 L219.1,517.8 L219.1,518.6 L219.2,521.0 L219.5,521.5 L220.0,523.2 L220.1,524.6 L221.6,522.6 L223.4,522.2 L225.3,521.1 L226.9,519.9 L228.3,519.9 L229.7,520.2 L232.1,518.9 L233.7,519.5 L234.3,519.0" fill="none" stroke="#00B0F0" stroke-width="6.8" stroke-linejoin="round" stroke-linecap="round"/>
<path d="M234.3,519.0 L234.4,517.6 L234.5,516.4 L234.4,515.6 L234.1,514.4 L234.3,513.1 L234.1,512.2 L233.9,510.6 L234.3,508.7 L234.6,508.3 L233.9,507.5 L234.5,506.4 L234.5,504.6 L234.6,503.2 L234.2,502.0 L234.1,501.7 L234.3,499.8 L234.2,498.3 L234.0,498.1 L234.5,496.2 L234.4,495.5 L234.2,493.5 L234.3,492.5 L234.6,492.0 L234.7,490.5 L234.3,488.5 L234.8,488.3 L234.3,487.0 L234.7,485.1 L234.4,484.9 L234.0,482.5 L234.8,482.4 L233.8,480.7 L234.5,479.7 L234.4,478.3 L234.4,477.2 L233.9,475.3 L234.1,475.2 L234.3,473.6 L234.8,471.6 L234.0,470.7 L234.7,470.1 L233.9,468.0 L234.0,468.0 L234.2,466.8 L234.7,465.7 L234.3,463.5 L234.3,463.2 L234.8,461.2 L234.3,460.6 L234.2,458.6 L234.1,457.8 L234.0,457.0 L234.5,456.0 L234.6,454.1 L234.0,452.6 L234.7,452.0 L233.9,450.6 L234.6,449.9 L234.7,448.8 L234.3,447.3 L236.1,446.2 L236.9,447.0 L237.0,449.1 L237.4,450.0 L238.0,452.0 L238.2,452.4 L238.4,454.6 L238.5,455.7 L239.3,456.7 L239.4,458.2 L239.3,459.2 L240.0,460.2 L240.3,461.7 L240.0,462.7 L240.5,464.7 L241.1,465.6 L240.5,467.0 L241.6,467.4 L241.1,468.6 L241.5,470.0 L242.1,471.6 L241.9,472.7 L241.9,473.7 L242.7,475.5 L242.4,477.0 L242.6,478.3 L243.0,480.7 L243.8,478.4 L243.9,476.7 L243.8,476.7 L243.6,474.3 L244.4,473.8 L244.8,471.8 L244.1,470.3 L244.4,469.0 L244.8,467.8 L244.8,467.2 L244.5,466.2 L245.6,464.5 L245.2,463.2 L245.8,462.6 L245.9,460.6 L245.3,458.8 L245.1,459.0 L245.8,456.9 L245.5,456.4 L245.5,454.7 L246.2,453.5 L246.4,452.2 L246.3,450.5 L246.7,448.8 L246.3,448.5 L247.1,447.1 L246.3,446.0 L247.4,444.2 L246.9,442.8 L247.3,441.3 L247.0,441.3 L247.5,439.4 L247.5,437.5 L247.4,436.3 L248.3,436.2 L248.7,435.3 L248.1,432.7 L248.8,431.9 L249.2,431.0 L248.9,429.6 L248.8,428.6 L248.8,428.0 L249.6,426.5 L249.9,425.0 L249.9,423.9 L249.6,421.5 L249.7,421.1 L250.1,420.3 L250.1,417.9 L249.7,417.8 L250.6,415.9 L249.9,414.1 L250.0,414.1 L250.4,412.1 L251.0,410.5 L250.8,409.8 L250.8,407.8 L250.9,406.5 L250.9,405.7 L250.9,405.3 L251.5,403.9 L251.9,401.7 L251.1,401.4 L251.6,399.7 L252.0,397.9 L251.8,396.5 L251.5,394.8 L251.6,393.8 L252.2,392.9 L252.3,391.3 L251.8,390.4 L252.0,389.4 L252.3,387.3 L252.9,385.7 L253.2,384.6 L252.7,383.6 L253.5,381.4 L254.2,383.2 L255.2,384.1 L255.5,386.6 L255.4,387.5 L256.2,388.4 L256.6,389.6 L257.2,391.7 L258.0,393.0 L258.6,393.5 L258.8,395.6 L258.3,396.5 L259.0,396.9 L259.2,398.9 L259.5,399.1 L259.9,400.8 L259.7,401.8 L259.4,403.0 L259.3,405.2 L259.0,406.7 L259.1,407.0 L258.5,408.3 L258.9,411.0 L259.0,412.1 L259.5,413.2 L259.6,413.8 L259.9,415.4 L260.1,416.1 L259.3,417.6 L260.0,418.9 L260.0,420.7 L260.3,421.6 L260.9,423.1 L260.4,424.4 L260.6,425.8 L260.9,427.4 L261.1,427.7 L262.1,429.8 L263.1,431.3 L264.0,429.9 L264.8,427.7 L264.9,426.2 L265.5,426.1 L266.0,424.9 L265.4,423.2 L265.6,422.1 L266.6,420.3 L266.9,419.0 L266.6,417.6 L267.1,416.6 L267.0,415.1 L267.5,413.3 L267.6,412.1 L267.4,410.7 L267.9,410.8 L267.8,408.3 L268.3,406.9 L268.4,406.2 L268.3,405.6 L268.8,403.9 L268.7,403.2 L269.0,401.2 L269.1,399.4 L269.4,398.5 L269.6,397.4 L270.2,395.7 L270.5,394.3 L270.4,394.1 L270.5,391.7 L270.1,390.5 L270.2,390.0 L271.2,388.5 L271.1,387.1 L271.4,386.1 L270.7,384.5 L270.7,383.1 L271.6,382.8 L270.8,381.4 L271.2,379.4 L271.8,378.4 L271.5,377.3 L271.4,377.0 L271.8,374.6 L271.8,373.7 L271.4,372.6 L271.4,371.7 L271.6,369.4 L272.2,368.3 L272.1,368.1 L272.2,366.9 L271.8,364.8 L272.2,363.2 L272.7,362.7 L272.4,361.4 L272.3,359.5 L272.0,358.4 L272.0,357.6 L272.3,356.8 L272.4,354.6 L273.3,353.8 L272.9,352.7 L273.0,350.6 L273.7,350.4 L273.6,348.2 L273.5,346.7 L273.1,346.7 L273.8,344.4 L274.5,343.6 L274.6,341.8 L274.7,341.1 L274.8,339.5 L275.6,341.7 L275.5,342.3 L275.8,343.9 L275.4,345.5 L276.3,347.4 L276.7,347.4 L276.3,348.5 L276.1,350.3 L276.3,350.9 L276.8,353.4 L277.1,353.3 L276.6,354.5 L276.8,357.1 L276.6,357.9 L277.0,358.8 L277.4,359.7 L277.1,361.7 L277.1,362.1 L277.5,363.9 L277.6,365.0 L278.4,366.6 L277.9,368.5 L278.7,369.7 L279.0,370.1 L278.7,369.9 L279.4,367.8 L279.4,366.5 L279.2,366.1 L279.9,363.8 L279.5,363.9 L280.1,362.1 L279.9,360.6 L280.1,358.8 L280.3,358.1 L280.8,356.7 L280.8,355.2 L281.5,354.6 L281.7,352.2 L281.9,351.6 L282.0,349.8 L282.9,348.7 L283.2,346.4 L282.9,345.9 L283.7,343.8 L283.3,342.7 L284.1,341.6 L284.3,340.0 L284.5,338.7 L285.0,337.7 L284.2,337.2 L284.7,335.4 L284.7,333.8 L285.2,332.7 L285.5,331.4 L285.6,329.7 L285.8,329.3 L286.3,328.2 L285.6,326.4 L286.5,325.7 L285.8,323.4 L286.5,322.8 L286.2,321.2 L286.6,320.8 L286.6,319.5 L287.4,317.4 L287.5,315.9 L287.1,314.7 L287.1,313.7 L287.7,313.3 L287.4,311.3 L288.1,309.8 L287.7,309.2 L288.0,307.2 L287.8,306.0 L288.4,305.6 L288.5,303.9 L287.8,303.3 L288.0,301.0 L288.1,300.0 L288.9,299.6 L288.9,297.0 L289.4,295.8 L288.8,294.7 L289.6,293.7 L289.7,292.6 L289.4,291.7 L289.3,289.7 L290.2,288.9 L289.9,287.7 L290.5,286.6 L290.4,285.2 L290.2,283.7 L290.9,283.1 L290.0,280.8 L290.3,279.6 L290.4,278.3 L290.6,277.0 L290.9,275.4 L291.2,274.3 L291.2,273.8 L291.2,272.2 L290.6,271.1 L290.5,269.6 L290.9,267.9 L291.2,267.1 L291.0,266.1 L291.4,264.1 L290.8,262.8 L291.7,262.0 L291.6,260.4 L292.0,259.1 L291.8,257.7 L292.1,257.0 L292.0,256.1 L291.7,254.6 L291.6,253.9 L292.2,251.9 L292.3,250.9 L292.9,249.4 L294.3,248.2 L295.5,247.1 L296.9,247.1 L296.9,248.4 L296.8,249.7 L297.4,251.1 L297.5,252.2 L298.3,253.5 L298.5,255.5 L298.4,256.7 L298.9,257.7 L298.8,258.0 L298.3,258.9 L298.5,260.8 L298.8,262.4 L298.8,263.4 L299.0,264.0 L299.5,265.3 L299.4,266.4 L299.7,267.5 L299.2,269.4 L299.8,270.7 L299.5,272.1 L299.7,273.5 L300.7,274.5 L300.2,275.5 L301.1,276.8 L301.0,274.5 L300.7,274.1 L301.4,272.7 L301.4,271.1 L302.4,270.0 L302.7,268.5 L302.5,268.0 L302.9,267.1 L303.3,265.9 L304.1,264.0 L305.1,265.8 L306.5,268.1 L307.4,269.8 L308.1,270.9 L309.1,270.5 L309.7,269.4 L311.3,267.9 L312.2,269.5 L313.1,271.6 L313.5,272.3 L313.9,273.5 L313.6,275.3 L314.6,276.5 L314.8,278.3 L314.9,279.1 L315.4,280.9 L314.7,282.3 L315.3,283.6 L315.7,285.0 L316.1,285.7 L316.2,286.0 L316.6,288.3 L317.2,289.6 L317.3,290.9 L317.7,291.8 L318.3,293.0 L317.5,293.5 L317.9,295.4 L318.3,296.0 L318.4,298.6 L318.8,299.4 L318.7,300.9 L318.5,301.9 L319.4,302.5 L319.4,303.4 L319.2,304.9 L319.7,306.4 L320.0,308.2 L320.0,309.3 L320.6,309.7 L321.0,311.5 L320.3,313.2 L320.6,314.1 L321.1,315.6 L321.3,317.0 L321.4,317.4 L321.3,319.1 L321.0,320.3 L321.8,321.6 L321.5,323.0 L321.7,324.6 L322.1,325.1 L321.5,326.4 L322.2,328.5 L321.8,329.6 L322.0,331.0 L322.1,332.1 L322.2,332.5 L322.5,333.7 L322.5,335.2 L322.1,336.3 L322.8,337.3 L322.0,339.4 L322.1,339.6 L322.5,341.6 L323.1,342.0 L322.3,344.4 L322.7,345.4 L322.5,345.8 L323.1,346.8 L322.5,348.3 L322.6,349.2 L322.6,350.4 L322.9,352.4 L322.9,352.7 L323.0,354.9 L322.6,355.8 L323.5,357.5 L323.0,357.9 L322.7,358.8 L322.9,360.7 L323.2,361.5 L323.2,363.1 L323.6,365.0 L323.8,365.6 L323.7,367.1 L323.0,367.5 L323.6,369.6 L323.7,370.6 L323.7,372.1 L323.8,372.5 L323.6,374.0 L323.7,375.4 L323.3,377.2 L323.8,378.6 L323.4,376.2 L323.5,376.1 L324.0,374.7 L323.6,373.4 L323.7,372.5 L324.2,371.3 L324.4,369.5 L323.9,368.4 L324.6,367.1 L324.6,366.3 L324.7,364.7 L324.6,363.2 L324.8,362.5 L324.9,362.6 L324.4,364.6 L324.8,366.3 L325.2,367.5 L324.9,368.4 L325.1,368.8 L324.6,369.8 L325.0,372.4 L324.4,372.4 L324.6,374.6 L324.8,374.9 L324.8,376.2 L324.7,377.9 L325.2,378.7 L325.1,379.6 L325.6,380.9 L325.2,383.4 L325.0,383.6 L325.4,385.1 L325.0,386.5 L325.6,387.8 L325.0,389.0 L325.8,389.5 L325.5,391.2 L325.5,391.9 L325.1,393.4 L325.7,394.7 L325.2,396.4 L325.0,397.0 L325.5,398.3 L325.6,399.8 L325.1,400.4 L325.8,402.0 L325.2,402.7 L325.5,405.1 L325.3,406.5 L325.1,407.1 L325.8,408.2 L325.4,409.1 L325.7,411.2 L325.6,411.6 L325.6,413.8 L325.5,413.7 L326.1,414.9 L326.1,416.9 L326.2,417.6 L326.2,418.5 L326.1,420.0 L325.8,419.5 L326.0,417.8 L325.7,417.0 L325.9,415.1 L325.8,414.7 L325.5,412.8 L326.3,412.0 L326.0,410.1 L325.6,409.2 L326.3,407.8 L326.6,407.1 L326.1,406.1 L326.0,405.1 L326.1,402.6 L326.8,402.1 L326.7,400.3 L326.0,399.7 L326.8,397.9 L326.4,397.7 L326.3,396.0 L326.9,394.9 L326.7,393.9 L327.0,392.2 L326.6,390.8 L326.4,390.5 L327.1,388.5 L326.9,387.6 L326.9,386.1 L326.6,384.7 L326.8,383.2 L327.2,382.3 L327.0,381.5 L326.7,380.9 L327.2,379.4 L326.5,377.8 L327.1,376.0 L327.2,375.9 L327.5,374.2 L326.5,372.5 L327.4,371.2 L327.2,370.8 L327.1,369.7 L326.8,368.3 L327.1,367.4 L327.1,365.2 L327.1,364.5 L326.8,363.8 L327.5,361.7 L327.5,363.9 L327.5,364.3 L327.6,366.0 L327.7,366.4 L327.0,367.7 L327.5,369.7 L327.2,370.9 L327.2,371.3 L327.6,373.4 L328.2,373.3 L327.5,375.1 L327.6,377.1 L328.0,377.3 L328.0,379.1 L328.3,380.6 L327.9,381.6 L328.6,382.5 L328.4,383.6 L328.0,384.4 L327.8,385.7 L328.1,384.9 L328.5,383.9 L328.6,382.5 L328.4,381.4 L328.6,380.5 L328.2,379.3 L328.2,376.9 L328.8,376.0 L328.9,375.0 L328.4,374.6 L328.9,372.1 L329.1,371.2 L328.9,371.1 L329.1,369.2 L329.3,368.3 L328.6,367.5 L329.0,365.3 L328.9,363.9 L329.0,363.3 L328.6,361.9 L328.8,363.8 L328.8,364.6 L329.3,365.8 L329.1,366.5 L328.8,367.7 L329.7,369.0 L329.4,370.3 L329.0,371.7 L330.0,372.9 L329.4,374.3 L329.5,375.0 L329.5,377.3 L329.3,377.3 L330.0,378.6 L329.4,379.9 L330.3,382.2 L330.4,382.5 L330.4,383.3 L330.0,382.9 L330.0,382.3 L330.4,380.4 L330.4,379.6 L329.8,377.7 L330.1,377.5 L330.7,375.3 L330.9,373.8 L330.3,372.8 L330.5,372.6 L330.9,370.1 L330.3,370.0 L330.4,368.9 L330.8,367.5 L331.0,366.1 L330.5,365.3 L330.9,363.9 L330.4,361.9 L331.0,361.7 L330.9,360.4 L330.5,360.5 L331.3,363.2 L331.0,363.4 L331.1,365.0 L331.2,365.9 L331.7,366.6 L331.9,368.9 L332.0,370.3 L331.9,370.7 L332.0,372.4 L331.6,373.9 L331.8,375.4 L332.1,376.5 L332.4,377.2 L332.4,378.5 L332.1,380.3 L332.3,381.1 L332.7,382.2 L331.7,381.1 L332.5,379.9 L332.9,378.8 L333.0,377.6 L333.0,375.9 L332.3,374.9 L333.1,374.1 L332.9,372.3 L332.6,370.5 L332.8,370.0 L333.4,368.9 L333.1,367.5 L332.6,366.1 L333.3,365.5 L333.7,364.0 L333.5,365.7 L333.6,365.9 L333.8,368.0 L333.6,368.4 L334.0,370.4 L333.2,371.5 L333.3,371.9 L333.9,374.1 L333.8,374.5 L333.6,375.6 L333.6,376.8 L334.1,379.1 L334.0,380.1 L333.7,381.7 L334.2,381.8 L334.2,383.5 L334.6,385.2 L333.9,386.2 L333.9,384.7 L334.8,383.0 L334.7,382.0 L334.3,381.5 L335.0,379.3 L334.5,378.1 L335.2,377.7 L335.0,375.1 L334.6,374.2 L335.5,372.8 L335.4,371.3 L335.2,373.5 L335.7,373.7 L335.2,375.3 L335.4,376.7 L336.1,377.6 L335.6,379.4 L336.2,381.0 L335.6,381.9 L336.3,383.0 L336.6,383.7 L336.4,385.9 L336.9,386.0 L336.7,387.8 L337.4,389.7 L338.0,390.9 L338.3,392.5 L338.3,393.6 L337.7,394.9 L338.4,397.0 L338.3,397.3 L338.9,399.2 L338.5,400.3 L338.5,401.3 L338.7,402.1 L338.5,403.4 L339.4,405.4 L339.2,406.8 L339.0,407.8 L339.8,408.1 L340.0,410.4 L339.7,411.2 L340.0,412.4 L339.5,413.6 L340.5,414.9 L340.0,416.7 L340.3,416.9 L340.6,418.1 L340.7,420.1 L340.4,420.8 L340.9,421.8 L341.2,423.8 L340.7,424.8 L341.2,425.7 L341.4,427.0 L341.2,428.2 L341.5,428.8 L341.6,430.2 L341.3,432.5 L341.4,433.4 L341.4,435.2 L342.2,435.4 L342.2,437.4 L341.5,437.9 L341.5,438.8 L341.9,440.5 L341.8,441.2 L342.0,443.5 L341.8,444.4 L341.7,445.7 L342.1,447.1 L341.6,447.9 L342.0,448.7 L342.0,450.7 L341.9,451.5 L341.7,453.2 L342.6,454.0 L342.3,454.7 L342.3,456.4 L342.4,458.0 L342.2,459.1 L342.3,459.3 L342.1,460.6 L343.0,462.7 L342.9,463.1 L342.4,464.4 L342.9,465.4 L342.8,466.9 L343.1,468.5 L342.5,469.2 L343.3,471.3 L343.0,472.4 L342.8,473.0 L343.3,473.6 L343.2,476.1 L342.9,476.1 L343.5,478.2 L343.1,479.0 L343.3,479.9 L343.9,481.4 L344.0,483.3 L343.4,484.7 L343.5,485.9 L343.6,487.0 L344.0,488.2 L344.5,489.8 L343.8,490.2 L344.9,491.9 L344.8,493.4 L345.1,491.3 L345.1,491.0 L345.3,489.6 L346.0,488.5 L345.6,487.3 L346.3,484.9 L346.8,483.6 L346.8,485.2 L347.5,486.2 L348.4,488.5 L348.2,490.0 L348.3,490.0 L349.4,491.5 L349.2,492.5 L349.7,493.9 L350.4,495.1 L350.6,497.7 L351.1,498.1 L351.8,497.4 L353.0,495.0 L353.4,494.2 L353.8,493.2 L354.2,491.7 L353.8,490.2 L354.4,489.3 L354.3,488.4 L354.0,487.0 L354.5,485.1 L354.5,483.5 L353.9,483.4 L354.9,481.5 L354.4,480.0 L355.1,478.9 L354.9,478.5 L354.8,477.5 L354.8,476.0 L354.7,474.3 L355.3,472.8 L355.5,472.6 L355.1,470.7 L354.9,469.4 L355.6,467.8 L356.1,466.6 L355.7,465.1 L355.6,465.1 L355.8,464.0 L356.3,462.1 L355.7,461.5 L356.7,459.4 L355.9,459.1 L356.6,457.0 L356.2,456.1 L357.2,454.4 L357.1,453.3 L357.0,452.4 L357.1,450.7 L357.6,450.8 L357.3,448.7 L357.7,447.1 L357.1,446.8 L357.7,445.4 L357.3,444.5 L358.1,442.2 L358.1,442.3 L357.8,441.1 L358.6,439.7 L358.2,437.9 L358.1,437.2 L358.0,435.6 L358.4,435.0 L358.9,433.2 L358.7,432.3 L358.7,430.5 L358.3,429.7 L358.7,428.1 L358.7,426.5 L359.0,425.4 L358.6,425.2 L358.7,423.9 L359.1,422.0 L359.3,421.2 L359.7,420.7 L359.3,418.6 L359.5,417.0 L359.4,415.7 L359.2,415.5 L359.7,413.8 L360.0,412.1 L359.3,411.5 L359.5,410.4 L359.1,409.3 L359.2,407.4 L359.3,406.8 L359.2,406.0 L359.6,403.6 L359.5,402.8 L359.5,402.0 L360.1,400.6 L360.2,399.5 L359.5,397.6 L359.9,396.4 L359.8,395.4 L360.2,394.3 L360.3,393.2 L359.5,392.5 L359.7,390.4 L359.6,389.4 L360.3,387.8 L360.6,386.3 L360.6,386.1 L359.8,383.8 L359.8,383.3 L360.0,382.7 L359.9,381.2 L360.2,378.8 L360.6,378.4 L360.1,376.9 L360.1,375.3 L360.6,374.7 L360.3,373.1 L361.2,372.0 L360.7,370.5 L360.3,370.0 L360.5,368.9 L360.6,367.2 L361.1,366.4 L360.8,365.3 L361.1,364.2 L361.4,363.0 L360.9,360.7 L360.7,359.8 L361.2,358.5 L361.0,357.5 L361.2,355.7 L361.8,355.2 L361.2,353.7 L361.7,352.2 L361.7,351.9 L361.4,350.4 L362.2,349.4 L361.8,347.2 L362.4,347.4 L362.3,345.1 L362.2,344.7 L362.2,343.8 L362.4,341.1 L362.2,341.4 L362.9,340.1 L362.2,337.8 L362.7,336.3 L363.1,335.7 L363.1,334.5 L362.8,333.6 L362.8,331.7 L363.1,330.7 L363.5,329.0 L363.3,327.3 L363.1,326.4 L363.2,324.9 L364.3,324.0 L363.8,323.3 L364.4,321.8 L363.8,320.7 L364.3,319.2 L364.1,317.4 L363.9,316.5 L364.2,315.2 L364.6,313.7 L363.9,312.4 L364.5,311.0 L364.2,309.9 L364.0,309.9 L364.4,308.6 L364.6,307.5 L364.3,305.4 L364.4,304.8 L364.5,303.3 L364.5,301.4 L365.3,301.2 L365.2,300.3 L365.3,297.8 L364.8,297.1 L365.5,295.3 L365.4,294.1 L364.8,293.2 L365.2,293.0 L365.7,290.9 L365.9,289.3 L364.9,288.8 L365.3,288.2 L365.0,287.0 L365.3,285.6 L365.1,284.6 L366.0,282.9 L366.1,282.0 L366.2,280.6 L366.3,279.2 L366.1,277.9 L366.5,276.0 L366.3,275.1 L366.3,273.8 L366.0,273.3 L366.1,272.1 L366.4,270.0 L366.5,269.1 L366.4,268.1 L366.5,266.5 L366.4,265.8 L367.2,263.8 L367.2,262.5 L367.4,261.4 L367.2,260.7 L367.5,259.1 L367.4,261.0 L367.6,262.0 L367.5,263.7 L368.6,264.0 L368.2,265.2 L368.3,267.6 L368.7,267.8 L369.2,269.8 L368.5,270.8 L368.7,272.8 L369.1,273.4 L369.7,274.7 L369.0,275.2 L369.3,277.3 L369.9,278.0 L369.7,278.8 L369.6,280.8 L370.5,281.8 L370.5,282.9 L370.0,281.0 L370.9,281.0 L371.2,278.9 L371.1,278.3 L371.2,277.1 L371.6,274.9 L371.5,273.9 L371.7,273.4 L372.1,271.9 L372.2,269.6 L371.5,268.7 L372.4,268.0 L372.7,265.6 L372.7,264.9 L372.4,263.5 L373.2,261.7 L373.5,260.4 L372.8,259.4 L373.8,258.7 L374.0,256.5 L373.6,255.2 L373.7,254.2 L374.8,253.2 L374.3,252.3 L374.7,249.6 L374.4,249.1 L374.8,247.4 L375.4,246.6 L376.3,244.6 L376.6,243.8 L376.2,244.8 L376.3,246.3 L376.5,248.2 L376.6,248.6 L377.4,250.6 L376.6,251.6 L377.4,252.2 L377.2,253.5 L377.1,255.2 L377.2,256.3 L377.8,257.7 L378.3,258.1 L377.8,260.3 L378.2,260.7 L378.1,261.9 L379.0,263.4 L378.7,264.9 L379.1,266.0 L378.8,267.6 L378.8,267.9 L379.6,270.4 L379.2,271.3 L379.6,272.0 L379.1,272.9 L379.9,275.4 L379.5,276.6 L379.7,277.1 L379.6,278.5 L379.8,280.2 L380.5,281.2 L380.1,281.9 L380.7,283.7 L380.5,284.0 L381.0,285.7 L380.6,286.7 L381.2,289.1 L380.7,290.2 L381.5,291.6 L380.8,291.7 L381.3,293.6 L381.4,294.4 L381.6,296.9 L382.4,296.9 L382.2,299.2 L382.3,300.0 L382.6,302.0 L383.2,302.4 L383.8,303.7 L383.6,306.1 L384.6,306.3 L384.1,308.7 L384.8,309.9 L385.1,310.2 L385.2,312.2 L386.2,314.2 L386.2,314.8 L387.1,316.6 L387.7,318.1 L387.9,319.4 L388.3,320.8 L388.5,321.0 L389.0,322.3 L388.9,324.4 L389.1,325.4 L389.6,326.1 L389.3,328.1 L389.9,328.5 L389.0,330.6 L389.8,331.3 L390.3,333.3 L389.8,333.7 L390.2,334.8 L390.3,335.9 L390.9,337.4 L391.2,339.3 L391.0,339.6 L390.7,341.0 L391.8,342.7 L392.0,343.2 L392.2,345.8 L391.6,345.8 L392.7,347.5 L392.4,349.4 L393.3,348.4 L393.0,346.5 L393.2,345.1 L394.3,343.6 L394.3,342.8 L394.2,341.0 L394.9,340.6 L395.4,338.9 L395.2,338.0 L395.4,336.7 L395.6,335.7 L395.6,333.2 L396.7,332.0 L396.6,331.1 L396.8,330.2 L396.9,328.8 L397.4,327.1 L397.6,325.6 L397.9,324.9 L398.0,323.3 L398.3,323.2 L398.3,321.8 L398.2,319.3 L397.9,318.4 L397.6,317.8 L398.6,317.0 L398.0,314.6 L398.2,313.2 L398.5,313.1 L398.3,311.8 L398.0,310.6 L398.1,308.8 L398.8,307.5 L398.7,305.8 L398.0,305.7 L398.9,304.2 L398.5,302.1 L398.1,301.8 L399.0,299.6 L398.8,298.7 L398.7,297.4 L398.8,295.5 L398.5,294.5 L398.8,293.5 L399.4,293.0 L399.2,290.9 L399.1,289.8 L399.0,289.1 L399.4,287.6 L399.1,285.8 L399.1,285.0 L399.6,283.9 L399.5,281.8 L399.8,281.1 L400.0,279.4 L399.2,278.9 L399.1,276.6 L399.8,276.2 L399.5,274.0 L399.9,273.8 L400.5,271.9 L399.8,271.3 L400.4,269.4 L399.7,268.1 L400.0,267.3 L400.0,265.4 L401.2,264.9 L400.6,263.8 L401.2,262.0 L402.1,261.2 L404.2,260.5 L403.3,261.7 L403.7,262.9 L403.9,264.5 L404.5,266.5 L404.0,266.9 L404.6,268.6 L404.7,269.4 L403.9,270.5 L404.1,272.2 L404.6,272.7 L404.9,274.8 L404.6,275.6 L404.7,277.2 L404.8,278.8 L405.0,279.2 L405.3,280.8 L404.7,282.1 L405.5,283.0 L405.3,283.7 L404.8,285.2 L405.8,286.2 L405.2,288.2 L406.2,287.4 L406.4,284.8 L406.6,284.8 L406.9,282.3 L407.6,282.4 L407.5,280.1 L407.5,278.8 L407.1,277.4 L407.1,277.5 L407.7,276.0 L407.7,274.1 L407.2,272.9 L408.1,272.1 L407.3,270.5 L407.8,269.2 L407.5,268.4 L408.3,266.8 L407.9,266.4 L408.1,265.0 L408.3,264.0 L407.7,262.5 L407.8,260.6 L407.8,259.4 L408.7,258.2 L407.9,257.1 L408.7,256.3 L408.6,255.3 L408.4,254.3 L408.6,252.4 L408.4,252.2 L409.0,250.3 L408.8,249.2 L408.4,247.2 L409.1,246.8 L409.4,245.5 L409.3,244.2 L409.0,242.9 L409.7,242.4 L409.7,240.6 L409.0,238.7 L409.8,237.5 L409.3,237.3 L409.2,236.1 L409.3,234.9 L409.9,232.9 L409.5,231.8 L409.9,231.2 L410.0,229.1 L409.9,227.3 L410.4,226.4 L410.7,225.0 L410.8,223.7 L410.4,222.1 L410.7,220.7 L410.1,219.9 L410.8,219.2 L410.3,218.4 L410.9,215.9 L410.3,215.7 L411.0,214.6 L411.1,212.4 L410.2,211.7 L410.3,210.8 L411.2,209.3 L410.9,208.0 L410.5,206.4 L411.1,206.4 L410.8,204.1 L411.3,203.0 L411.3,202.4 L410.9,201.0 L411.0,199.2 L410.9,198.7 L411.6,196.8 L411.0,195.5 L411.9,194.4 L411.4,193.1 L411.5,192.8 L411.6,191.7 L411.4,190.8 L412.0,188.5 L411.8,187.1 L412.2,187.2 L412.0,185.2 L412.3,184.0 L411.7,183.2 L412.2,182.5 L412.4,180.0 L412.9,180.0 L412.3,177.8 L412.8,177.2 L413.2,175.8 L413.5,174.8 L412.8,173.9 L413.7,172.3 L414.0,173.9 L413.6,174.9 L414.0,175.8 L415.0,177.6 L414.8,178.4 L415.3,179.6 L415.5,182.1 L415.8,182.9 L416.8,184.0 L416.4,185.3 L416.8,187.4 L416.8,187.5 L417.7,188.5 L417.5,190.8 L417.3,191.5 L417.6,193.0 L418.1,194.6 L417.7,195.1 L418.6,197.3 L418.2,197.3 L418.2,199.7 L418.3,200.1 L418.5,201.6 L419.1,202.5 L419.0,204.9 L419.1,205.4 L419.4,206.8 L419.2,208.4 L418.9,208.7 L419.8,210.0 L418.9,211.1 L419.9,212.3 L419.5,214.4 L419.1,214.9 L419.9,216.1 L419.5,217.8 L420.0,218.6 L419.4,219.4 L419.6,221.6 L420.3,222.6 L419.6,224.0 L419.6,224.4 L419.7,226.8 L420.2,226.7 L420.6,228.4 L419.8,230.1 L420.2,231.2 L420.1,231.8 L419.7,233.6 L420.2,234.5 L420.4,235.8 L420.8,237.3 L420.8,237.8 L420.5,240.0 L420.7,240.4 L420.7,241.9 L420.3,243.4 L422.3,243.4 L422.5,242.2 L423.3,241.1 L423.5,239.5 L422.6,238.8 L423.3,237.9 L422.8,236.4 L423.0,234.7 L423.1,233.5 L423.9,233.1 L423.2,231.6 L423.4,229.3 L423.3,229.2 L424.0,227.6 L423.5,226.7 L424.0,225.1 L424.4,223.4 L424.0,221.8 L424.1,221.6 L424.5,219.4 L424.2,218.7 L424.9,217.1 L424.1,216.6 L425.1,214.8 L424.3,213.2 L424.7,211.4 L425.0,213.2 L425.2,214.1 L425.1,216.1 L425.1,216.9 L425.7,217.6 L425.3,219.3 L426.0,220.0 L425.6,221.8 L425.7,223.0 L426.7,225.0 L426.6,225.9 L426.2,227.1 L426.5,228.9 L426.8,229.9 L427.3,230.9 L427.5,232.3 L426.9,234.1 L427.4,234.1 L427.0,236.6 L427.5,237.4 L427.8,238.5 L427.6,239.8 L427.2,240.9 L427.1,242.1 L427.2,243.6 L428.1,244.7 L427.6,246.0 L427.7,247.0 L427.6,248.6 L427.9,249.5 L427.9,250.8 L428.4,252.6 L428.3,254.4 L427.9,255.6 L428.2,256.9 L428.5,257.1 L428.4,258.7 L427.8,259.7 L428.1,261.4 L428.3,262.1 L428.8,263.3 L428.8,265.4 L428.3,266.6 L428.9,267.9 L429.3,269.5 L428.8,269.9 L428.6,271.2 L429.2,273.2 L428.7,274.0 L428.8,275.8 L429.7,275.9 L428.9,278.3 L429.4,278.8 L430.0,280.9 L429.3,281.2 L430.1,283.5 L429.7,284.0 L430.1,284.8 L429.7,283.5 L429.6,282.4 L429.9,282.1 L430.6,280.0 L429.9,279.3 L430.4,278.4 L430.4,277.3 L430.1,275.4 L430.1,274.9 L431.1,273.2 L431.0,271.8 L431.2,270.9 L430.8,269.2 L431.1,267.5 L430.9,266.1 L430.9,266.1 L431.1,264.6 L430.7,262.3 L430.9,262.1 L431.0,259.9 L431.6,259.3 L431.1,257.9 L431.2,256.4 L431.6,256.1 L431.5,253.6 L431.9,253.3 L432.1,251.2 L432.2,249.7 L431.5,249.4 L432.2,247.8 L432.2,246.2 L432.5,245.1 L432.4,244.5 L432.2,241.9 L432.6,242.0 L432.1,240.8 L432.0,239.1 L433.0,238.1 L432.1,236.8 L432.9,235.4 L432.8,233.2 L433.0,232.6 L432.7,231.0 L433.6,230.2 L433.4,228.9 L434.3,227.9 L433.8,225.9 L434.3,224.9 L436.0,222.2 L436.7,221.3 L436.2,219.6 L436.4,219.3 L436.8,218.0 L437.1,216.9 L436.4,215.2 L436.6,213.2 L436.6,212.7 L436.6,211.1 L436.9,210.1 L437.1,207.8 L437.8,206.8 L437.3,205.4 L437.1,204.6 L437.0,202.7 L437.6,202.0 L438.0,201.6 L437.1,199.8 L437.4,197.7 L437.9,197.0 L437.5,195.8 L437.4,194.8 L437.9,196.6 L438.6,197.6 L439.2,197.8 L439.4,199.6 L439.4,201.1 L441.1,203.5 L440.9,201.8 L441.7,200.1 L441.3,199.6 L441.4,197.9 L442.2,196.6 L442.8,195.8 L442.3,194.0 L443.1,192.4 L443.2,190.4 L443.0,189.7 L443.5,188.2 L443.8,187.5 L443.8,186.6 L443.7,184.7 L443.3,182.8 L444.3,182.2 L444.4,180.7 L443.9,178.9 L445.1,178.4 L444.7,176.2 L445.1,174.7 L445.7,176.1 L446.0,176.8 L445.3,179.1 L446.3,180.1 L445.8,181.3 L445.8,182.4 L446.4,182.9 L446.8,185.4 L446.3,186.6 L446.4,187.5 L447.3,188.4 L447.5,190.3 L447.3,190.9 L447.9,191.7 L447.8,193.5 L447.9,194.6 L447.6,196.2 L448.1,196.5 L447.9,198.4 L448.0,199.3 L448.4,201.1 L449.2,201.6 L449.3,202.9 L449.0,204.1 L449.8,205.4 L450.3,206.5 L450.1,207.8 L450.6,209.9 L450.4,210.1 L450.5,212.4 L450.6,213.8 L451.3,213.9 L451.2,216.4 L451.8,216.5 L451.1,218.4 L451.7,219.3 L452.2,220.6 L452.2,222.7 L451.6,222.9 L452.4,224.3 L452.1,226.7 L452.5,227.3 L453.2,228.7 L452.5,230.0 L453.0,231.9 L453.5,232.2 L453.2,234.6 L453.1,234.7 L453.4,237.1 L453.4,237.8 L453.5,238.4 L453.7,240.1 L454.3,241.4 L454.4,243.4 L453.8,244.3 L454.1,245.0 L454.1,246.6 L455.0,247.5 L454.9,249.5 L454.7,250.0 L454.5,252.2 L454.9,253.0 L455.1,254.6 L455.1,255.8 L455.8,257.1 L455.3,257.5 L455.5,259.5 L455.9,260.0 L455.8,261.2 L456.2,263.4 L455.8,264.7 L456.0,265.1 L455.6,266.3 L456.6,268.1 L456.7,268.3 L456.7,270.2 L456.9,271.8 L456.5,272.9 L457.1,273.2 L456.4,275.0 L456.6,276.4 L456.9,277.8 L456.4,279.3 L456.7,279.4 L457.4,280.8 L456.9,282.2 L457.0,283.9 L457.0,285.4 L457.5,286.5 L458.0,287.9 L457.8,288.8 L457.5,289.5 L457.8,290.7 L457.9,292.1 L458.0,293.2 L457.8,294.9 L457.9,295.3 L458.0,297.1 L457.9,298.5 L458.3,299.1 L458.7,301.1 L458.3,302.1 L458.2,303.8 L458.5,304.2 L458.8,305.2 L459.3,307.5 L458.7,307.4 L458.9,308.9 L458.7,310.2 L459.4,311.1 L459.2,312.7 L459.4,314.1 L459.1,315.3 L459.6,317.2 L459.4,318.4 L459.3,319.6 L459.5,320.0 L458.8,321.2 L458.8,322.6 L459.5,324.1 L459.6,325.8 L460.3,327.2 L460.7,328.0 L460.6,329.6 L460.9,330.4 L461.0,332.5 L461.9,333.7 L461.8,334.0 L461.6,336.1 L461.8,336.8 L462.4,337.9 L462.3,339.5 L462.7,340.0 L462.5,342.4 L462.8,342.4 L462.4,344.3 L462.7,345.2 L462.4,346.9 L463.5,348.0 L462.9,348.7 L463.7,351.0 L462.9,352.1 L463.7,352.6 L463.6,353.8 L463.5,355.4 L464.1,356.2 L463.5,358.3 L463.8,358.5 L464.5,360.1 L464.6,362.1 L464.0,362.9 L464.4,363.6 L464.5,365.0 L465.0,365.7 L464.7,367.1 L464.6,368.1 L465.5,369.8 L465.2,370.8 L465.3,371.8 L465.5,373.4 L465.4,374.4 L465.9,375.6 L465.3,378.1 L466.0,378.6 L466.2,380.0 L465.9,380.7 L466.2,383.0 L466.0,383.2 L467.0,385.3 L466.4,386.1 L467.3,387.4 L467.4,389.1 L466.8,389.8 L467.4,391.0 L468.2,393.3 L468.4,394.7 L468.3,394.7 L469.2,397.1 L468.9,397.5 L469.8,398.9 L469.3,400.1 L470.2,401.9 L469.8,402.4 L470.3,404.0 L470.2,404.7 L471.2,406.5 L470.6,408.2 L471.4,409.3 L471.9,409.8 L471.8,411.1 L472.0,412.3 L472.7,414.5 L472.5,415.4 L473.1,416.8 L472.6,417.5 L473.0,419.4 L473.3,421.1 L473.3,422.2 L473.2,423.3 L473.0,424.7 L473.2,425.0 L473.8,426.7 L474.0,427.5 L474.3,429.2 L474.5,431.3 L474.1,431.4 L475.1,432.8 L474.8,434.2 L474.8,435.4 L475.2,437.4 L475.9,437.6 L476.4,439.7 L476.0,438.3 L476.9,436.4 L476.5,435.2 L477.4,434.4 L477.6,433.2 L477.8,432.1 L477.6,430.9 L477.9,429.8 L477.7,427.9 L477.6,427.6 L478.6,426.7 L478.4,425.7 L478.5,423.9 L479.0,422.7 L478.4,421.5 L478.6,420.5 L479.0,419.5 L479.3,417.9 L478.8,417.2 L478.9,415.7 L479.8,413.6 L479.1,412.1 L479.3,411.1 L479.3,411.0 L479.3,408.9 L479.6,408.4 L479.6,406.7 L480.2,405.2 L480.0,404.8 L480.4,403.7 L479.9,401.2 L480.0,401.2 L480.8,399.2 L480.7,398.0 L480.5,397.2 L480.9,396.1 L481.2,395.1 L482.0,393.9 L481.7,392.8 L482.0,391.1 L481.8,390.3 L482.7,388.9 L482.3,389.2 L482.4,391.3 L483.5,392.4 L483.5,393.9 L484.0,394.4 L483.7,395.2 L483.8,396.8 L483.6,397.7 L483.7,399.4 L484.3,400.3 L484.5,402.1 L484.5,403.5 L484.2,405.0 L484.0,404.8 L484.7,407.3 L484.5,408.1 L485.1,409.1 L484.8,411.0 L485.2,411.4 L484.5,412.7 L484.9,414.5 L484.9,415.3 L485.5,417.2 L485.4,417.5 L485.4,418.9 L486.0,419.6 L486.2,421.8 L485.5,421.8 L485.5,424.3 L485.6,424.5 L486.4,426.8 L485.9,427.3 L486.7,428.9 L486.4,429.8 L487.1,431.7 L486.8,432.6 L487.1,433.6 L487.0,435.3 L487.3,436.5 L487.4,436.7 L487.2,438.5 L487.0,440.2 L487.9,441.3 L487.9,442.2 L488.0,443.8 L487.4,445.3 L488.0,446.3 L487.9,448.2 L488.0,448.9 L487.9,449.6 L488.1,452.0 L488.3,453.2 L488.6,453.9 L488.4,454.9 L488.6,456.6 L488.8,458.3 L488.6,458.1 L489.2,460.5 L488.9,461.4 L489.8,462.8 L489.9,463.7 L489.5,464.4 L489.4,464.3 L489.9,463.0 L489.6,461.1 L489.5,460.1 L489.8,458.8 L490.3,458.3 L490.7,456.7 L489.9,455.7 L490.5,453.9 L491.0,452.6 L491.0,452.1 L490.7,450.5 L491.1,449.0 L490.9,448.3 L491.3,447.1 L491.1,445.2 L491.2,445.1 L491.5,443.4 L491.3,442.4 L492.0,441.3 L491.6,439.1 L491.9,438.4 L491.6,436.3 L492.4,436.3 L492.0,434.0 L492.2,433.3 L492.5,431.9 L492.2,431.2 L492.8,429.3 L492.7,428.9 L493.1,426.6 L493.0,426.2 L492.9,425.3 L493.9,423.1 L493.4,422.6 L493.6,420.9 L494.7,418.8 L495.0,417.4 L495.5,416.8 L495.5,416.0 L496.2,413.6 L495.6,413.3 L496.1,411.4 L497.4,413.3 L497.9,415.0 L499.1,415.3 L499.9,417.4 L500.0,418.9 L500.3,420.7 L501.0,421.0 L500.7,421.9 L500.5,423.5 L500.8,425.6 L501.8,425.9 L501.0,427.0 L501.8,428.4 L502.0,429.6 L501.8,430.6 L502.7,432.1 L502.2,434.0 L503.2,434.8 L503.8,435.8 L504.2,437.8 L503.5,438.8 L504.3,441.0 L504.4,442.2 L504.7,442.6 L504.3,444.3 L505.0,445.4 L504.7,446.9 L505.8,448.3 L505.3,449.3 L506.4,451.3 L506.2,452.0 L506.9,453.1 L506.6,455.3 L507.5,456.1 L508.5,456.7 L509.6,458.2 L510.0,460.5 L509.6,461.5 L510.2,462.2 L510.5,463.9 L511.2,465.7 L511.1,466.4 L511.6,467.0 L511.8,468.2 L512.2,469.5 L512.4,468.8 L512.6,466.5 L513.8,466.4 L513.8,464.5 L514.1,463.3 L514.4,461.2 L515.8,462.9 L517.7,465.6 L517.6,465.6 L517.5,468.1 L518.0,469.5 L518.0,470.3 L518.0,471.9 L519.1,472.9 L518.8,474.6 L518.7,475.8 L519.0,476.3 L520.1,478.2 L520.1,479.5 L520.8,480.3 L521.1,481.8 L522.4,483.2 L522.0,483.6 L523.5,485.1 L523.7,483.7 L523.2,483.6 L523.9,482.2 L524.5,479.7 L523.9,478.5 L524.3,477.3 L524.5,476.2 L524.6,475.0 L525.5,474.2 L525.0,472.3 L525.5,472.0 L525.8,470.1 L525.8,468.1 L526.2,467.4 L526.9,466.6 L526.7,464.3 L527.2,463.4 L526.8,462.6 L527.0,461.5 L527.5,459.7 L527.7,458.8 L527.6,458.0 L527.5,456.0 L527.8,454.7 L527.3,453.5 L527.4,453.4 L528.1,452.1 L527.5,450.5 L528.1,449.9 L527.9,448.2 L527.9,447.3 L528.4,446.2 L528.5,443.7 L528.3,443.1 L528.5,441.8 L527.7,440.8 L527.7,439.2 L528.6,439.0 L528.3,437.0 L527.6,435.6 L527.9,434.7 L528.2,433.7 L528.4,432.4 L528.4,430.4 L527.7,429.5 L528.4,427.9 L528.4,427.7 L528.6,426.3 L528.3,424.7 L528.6,424.2 L528.3,422.9 L528.3,421.7 L528.6,420.7 L528.4,419.5 L528.8,417.4 L528.0,416.7 L528.3,415.8 L527.9,413.5 L528.0,412.1 L527.9,410.7 L528.0,409.5 L528.4,409.0 L528.2,407.7 L528.0,407.2 L528.2,405.6 L528.3,404.6 L528.2,402.0 L528.3,400.7 L529.0,400.9 L528.3,398.2 L528.9,398.3 L529.0,396.9 L528.6,394.6 L528.5,393.3 L528.8,392.8 L528.5,391.8 L528.8,389.6 L528.5,389.1 L528.6,388.0 L529.1,387.0 L528.7,384.9 L528.7,384.0 L529.2,382.8 L529.0,382.0 L528.8,380.5 L528.7,378.7 L528.6,377.0 L528.5,377.0 L528.6,374.6 L529.0,373.9 L528.7,372.3 L528.5,370.6 L528.4,369.7 L528.9,368.7 L529.1,368.1 L528.9,366.0 L529.4,364.5 L529.1,363.3 L529.1,363.3 L528.6,361.9 L528.7,360.5 L529.0,358.9 L529.0,358.3 L529.2,356.6 L529.2,355.2 L529.0,353.8 L529.6,352.8 L529.3,351.9 L529.8,350.0 L529.8,349.7 L529.2,347.5 L530.0,346.4 L529.0,345.0 L529.3,343.7 L529.5,343.2 L529.9,342.5 L530.0,341.4 L529.6,339.9 L529.9,337.6 L529.5,336.6 L529.6,335.4 L529.8,334.1 L529.8,332.9 L530.3,331.7 L529.8,331.4 L530.2,330.3 L530.5,327.9 L530.0,327.6 L530.3,325.2 L530.7,323.9 L530.2,323.7 L530.5,322.5 L530.9,320.2 L531.3,319.4 L531.1,318.6 L530.9,317.7 L530.6,315.6 L531.6,314.2 L531.1,313.9 L531.0,311.9 L531.0,311.3 L531.4,309.6 L532.1,311.3 L531.5,313.2 L532.4,314.3 L532.5,315.9 L532.6,316.5 L533.0,317.7 L533.1,319.9 L533.5,320.2 L533.7,321.3 L533.2,323.0 L533.8,324.0 L533.9,325.9 L534.4,326.8 L534.5,328.1 L534.5,329.9 L534.4,330.9 L534.0,332.1 L534.4,333.6 L534.0,334.6 L535.0,336.4 L534.6,337.1 L535.1,339.0 L534.5,339.6 L534.9,340.8 L534.6,342.3 L535.0,343.2 L534.6,344.8 L534.9,345.8 L535.1,346.1 L535.6,348.1 L535.1,346.7 L535.4,346.2 L535.9,343.9 L536.6,343.4 L536.2,342.2 L536.4,341.2 L536.9,340.1 L536.8,338.1 L537.4,337.8 L537.3,336.7 L537.4,334.3 L538.2,333.6 L538.4,331.8 L538.8,331.5 L539.1,330.5 L539.0,328.5 L539.1,327.9 L539.2,326.8 L540.3,325.0 L540.0,323.6 L540.6,323.2 L540.1,321.7 L540.9,319.9 L540.6,318.1 L540.5,317.7 L541.0,316.8 L541.3,315.0 L540.9,313.6 L541.2,312.3 L541.5,311.0 L541.7,309.7 L542.0,309.7 L541.9,308.6 L541.7,306.6 L541.7,305.6 L542.0,304.9 L542.3,302.2 L542.0,301.9 L542.8,300.5 L543.0,299.6 L542.9,298.0 L542.6,295.8 L542.9,295.4 L543.4,294.0 L543.0,292.0 L543.1,292.0 L543.4,290.4 L543.8,288.4 L543.2,287.9 L543.0,286.0 L543.9,285.5 L543.3,283.1 L544.2,282.6 L543.8,281.6 L544.1,279.9 L544.0,279.3 L543.9,277.7 L543.9,277.1 L543.6,275.5 L544.2,274.1 L544.0,273.4 L544.3,271.8 L544.0,269.9 L544.9,268.2 L544.4,267.3 L544.4,266.7 L545.0,265.3 L545.1,264.4 L545.2,262.4 L545.2,262.0 L545.4,259.7 L544.5,258.5 L544.5,257.6 L545.2,256.7 L544.8,256.0 L544.8,255.1 L545.1,252.5 L545.0,251.2 L545.1,251.0 L545.3,248.8 L545.3,248.0 L545.3,247.4 L545.3,245.9 L545.2,244.6 L546.0,243.2 L545.4,242.3 L546.4,241.3 L545.9,239.9 L545.8,238.4 L546.4,237.9 L546.2,236.5 L546.5,235.1 L546.7,233.8 L546.3,232.8 L546.5,231.9 L546.7,230.1 L546.6,229.5 L546.4,227.4 L546.9,225.8 L546.6,224.6 L546.8,224.7 L547.1,222.6 L547.0,221.8 L546.4,219.7 L546.9,219.0 L547.2,218.6 L546.9,216.9 L546.5,215.3 L547.3,214.4 L546.8,213.2 L547.0,211.9 L547.0,210.8 L547.6,210.1 L547.2,207.6 L547.6,207.3 L546.8,206.5 L547.3,204.3 L547.6,203.1 L547.7,202.4 L547.2,200.8 L547.2,199.3 L547.2,198.4 L547.3,197.3 L547.4,196.7 L547.6,194.5 L547.7,193.4 L547.9,192.4 L548.2,190.7 L547.4,190.4 L547.6,188.1 L547.9,188.2 L547.9,186.3 L547.5,185.5 L548.6,183.1 L547.8,182.1 L548.5,182.1 L548.6,179.7 L548.1,179.2 L548.0,178.2 L548.2,176.0 L548.0,175.8 L548.0,174.6 L548.0,173.1 L548.3,172.1 L549.0,170.8 L548.4,168.3 L549.2,167.8 L548.4,166.4 L549.2,164.6 L548.9,163.3 L548.7,163.0 L548.8,161.9 L548.9,160.4 L549.0,159.0 L549.1,157.4 L548.9,156.9 L549.0,154.7 L550.0,153.6 L549.1,153.0 L549.6,152.0 L549.8,150.6 L550.0,148.7 L550.2,147.8 L550.3,146.8 L549.7,145.1 L550.1,143.6 L550.4,142.5 L550.4,142.6 L550.9,140.8 L550.1,139.3 L550.6,137.7 L551.3,136.7 L550.8,136.1 L550.9,134.7 L551.2,133.4 L551.4,132.6 L551.4,131.3 L551.4,128.8 L552.5,128.1 L552.2,126.5 L552.8,125.8 L552.8,127.2 L552.3,128.5 L552.5,129.7 L552.9,130.1 L552.9,131.4 L553.0,133.7 L552.9,134.0 L553.9,135.1 L553.5,136.7 L554.0,138.9 L554.0,139.5 L554.6,140.9 L554.0,142.3 L554.1,142.5 L554.1,144.1 L554.5,145.2 L554.9,146.6 L555.1,148.6 L555.1,150.0 L554.6,149.9 L554.8,151.8 L554.8,153.3 L555.2,153.6 L554.9,155.4 L555.7,156.0 L555.7,157.9 L556.0,159.4 L555.2,161.0 L555.8,162.1 L555.6,162.1 L556.2,163.6 L555.6,165.8 L556.3,166.9 L556.2,167.9 L555.9,168.5 L555.7,170.8 L556.2,171.3 L555.6,172.1 L555.8,173.3 L555.9,174.4 L556.5,177.0 L556.0,177.5 L555.9,178.3 L556.5,179.7 L556.7,181.3 L556.1,182.6 L556.5,183.9 L556.0,185.7 L556.4,185.8 L556.6,186.8 L556.2,188.6 L555.9,189.7 L556.9,191.4 L556.2,191.8 L556.8,193.5 L556.2,195.5 L556.3,196.6 L556.9,196.6 L556.6,199.0 L556.9,199.1 L556.6,200.9 L556.5,201.8 L557.1,202.7 L557.3,204.6 L557.4,206.1 L557.1,206.3 L556.9,207.8 L557.4,209.5 L557.0,210.0 L557.6,212.4 L557.8,213.4 L557.1,213.7 L557.7,215.6 L557.3,216.7 L558.1,217.4 L557.7,219.8 L557.5,221.1 L557.5,221.2 L557.3,222.4 L557.8,223.9 L558.3,224.9 L557.5,226.4 L558.0,226.9 L558.2,229.5 L557.9,230.2 L558.5,231.7 L558.2,231.9 L557.9,233.5 L558.4,234.5 L557.9,236.8 L558.7,237.6 L558.6,239.1 L558.9,239.3 L558.2,241.7 L558.5,241.7 L558.7,243.4 L558.3,244.4 L558.8,245.5 L559.1,246.5 L559.0,247.8 L559.2,248.7 L558.4,249.9 L559.1,251.6 L558.7,252.6 L558.6,254.8 L559.0,255.2 L558.4,256.0 L558.7,257.5 L559.1,259.1 L558.6,260.2 L559.3,260.7 L558.8,262.3 L559.3,263.8 L559.3,265.3 L559.4,265.9 L559.4,267.8 L558.6,268.6 L559.3,270.0 L559.6,270.6 L559.4,272.4 L559.2,273.8 L559.1,274.9 L559.2,275.6 L559.0,277.1 L559.7,277.8 L559.7,278.8 L559.9,280.6 L559.3,282.4 L559.0,282.4 L559.8,283.9 L559.3,286.0 L559.6,287.1 L560.0,287.5 L559.5,288.5 L560.0,291.0 L559.9,291.2 L559.8,292.8 L559.6,294.0 L559.2,294.8 L559.2,296.8 L560.2,297.2 L560.1,298.5 L559.4,299.8 L560.1,300.7 L559.5,303.1 L559.4,304.3 L560.3,305.2 L559.7,306.4 L560.2,306.9 L559.6,308.5 L560.2,310.5 L560.5,311.3 L560.5,312.0 L560.6,313.8 L560.1,314.8 L560.2,315.6 L560.8,317.4 L560.5,318.8 L560.9,318.8 L560.1,321.3 L560.2,321.5 L560.6,322.6 L561.1,324.2 L560.8,326.0 L560.6,327.0 L561.3,328.2 L560.9,329.4 L560.4,330.9 L561.1,330.8 L561.0,332.9 L560.8,333.5 L561.4,335.9 L561.2,336.8 L561.1,338.3 L561.9,339.2 L561.4,339.7 L562.0,341.3 L562.0,342.0 L561.6,344.4 L561.5,342.1 L561.8,341.9 L562.0,340.5 L562.5,338.5 L562.1,337.7 L562.3,337.0 L562.5,335.6 L563.1,334.6 L563.3,333.2 L562.9,331.1 L562.9,330.9 L563.7,328.7 L562.9,327.6 L562.9,326.5 L563.4,325.5 L563.9,323.8 L563.9,323.4 L563.3,322.5 L564.1,320.1 L564.2,318.9 L563.4,318.2 L563.5,316.8 L564.0,316.5 L563.7,315.3 L564.5,313.3 L564.3,311.8 L563.9,311.6 L563.8,310.3 L564.8,309.0 L564.7,306.7 L564.0,306.2 L564.6,305.4 L564.3,303.1 L564.5,303.1 L564.6,300.7 L564.8,300.3 L564.7,299.6 L565.2,297.0 L565.1,296.7 L565.0,294.9 L565.2,294.8 L565.0,292.2 L565.1,292.2 L565.3,290.4 L564.7,288.6 L565.1,287.4 L565.0,287.4 L565.2,285.2 L564.8,284.7 L564.8,282.5 L565.3,281.1 L564.9,281.3 L565.5,278.8 L565.7,278.8 L565.0,277.0 L565.4,275.7 L565.7,274.8 L565.2,273.1 L565.8,272.4 L565.9,271.0 L565.9,270.3 L566.0,267.7 L566.2,266.8 L566.4,265.3 L566.4,264.6 L566.5,263.0 L566.5,261.8 L566.5,260.7 L566.1,259.8 L566.5,258.0 L566.7,257.3 L566.5,255.4 L567.2,255.2 L566.4,254.2 L567.4,252.3 L567.0,251.5 L567.2,249.7 L566.9,248.8 L567.8,248.0 L567.3,248.0 L568.0,250.0 L567.3,250.8 L568.2,251.7 L568.0,253.0 L568.6,254.2 L568.8,256.2 L568.4,257.1 L568.8,258.6 L568.6,259.8 L568.8,260.7 L569.2,262.6 L568.8,263.6 L569.0,265.2 L568.9,265.8 L569.3,266.9 L569.6,268.4 L569.1,270.3 L569.5,271.4 L569.0,271.7 L569.6,272.7 L569.9,274.4 L570.1,276.0 L569.3,276.8 L569.8,278.0 L569.4,280.1 L569.8,280.9 L569.9,281.8 L570.2,282.8 L570.4,284.8 L569.5,286.0 L570.0,287.5 L569.9,288.6 L569.7,289.6 L569.8,291.3 L570.0,292.4 L570.6,292.8 L570.2,295.1 L570.3,295.1 L570.8,297.2 L570.7,297.6 L570.5,299.1 L570.9,297.7 L571.2,296.5 L571.0,295.6 L571.5,294.7 L571.1,293.1 L571.0,292.4 L571.2,291.1 L571.2,289.8 L572.0,288.6 L571.5,287.4 L572.0,285.3 L572.4,284.7 L572.2,282.9 L571.8,282.0 L572.6,280.6 L572.6,278.9 L572.7,278.9 L572.0,277.3 L572.6,276.5 L572.5,274.5 L572.5,272.9 L572.7,272.3 L573.2,271.3 L573.3,269.6 L573.4,268.0 L573.5,266.8 L573.1,265.4 L573.2,264.3 L573.6,263.6 L573.6,262.7 L573.6,260.7 L573.4,260.7 L573.7,258.2 L574.0,257.7 L574.3,255.9 L573.5,254.9 L573.7,254.4 L574.2,253.2 L574.2,251.6 L574.6,250.6 L574.8,248.2 L573.8,246.9 L574.5,246.6 L574.3,244.6 L574.8,244.1 L574.6,243.2 L574.4,241.6 L574.4,239.9 L574.4,238.2 L575.1,238.0 L574.8,236.9 L575.0,234.9 L575.3,234.5 L575.4,232.8 L575.6,230.9 L575.4,229.8 L575.5,228.6 L575.6,227.5 L575.6,226.8 L576.0,225.5 L575.7,224.0 L575.5,222.8 L576.0,221.6 L576.1,220.6 L576.4,218.7 L576.0,218.6 L575.7,217.1 L576.3,215.6 L576.4,214.6 L576.5,213.5 L576.2,211.5 L577.1,211.1 L576.7,209.5 L576.5,208.2 L577.4,207.1 L577.0,205.3 L577.0,204.8 L577.3,202.7 L577.2,202.1 L576.9,199.7 L577.8,199.2 L577.2,198.2 L577.6,195.7 L578.1,195.1 L578.0,193.3 L577.7,192.5 L578.0,191.9 L577.8,189.9 L578.1,188.9 L577.6,188.0 L578.4,185.8 L577.8,185.5 L578.5,183.5 L578.4,182.3 L578.5,181.4 L578.3,179.9 L578.8,178.7 L577.9,176.9 L578.1,176.0 L578.6,175.4 L578.8,174.1 L578.0,171.8 L578.3,171.4 L578.2,169.5 L578.7,168.9 L578.5,167.4 L579.1,166.8 L578.7,165.5 L579.0,164.3 L579.1,163.2 L578.7,161.3 L579.6,159.7 L579.2,159.2 L579.5,158.4 L579.9,156.5 L579.8,155.3 L579.2,154.4 L579.1,153.5 L580.1,151.8 L579.3,150.9 L580.1,150.0 L580.2,148.9 L580.4,147.5 L580.5,145.9 L581.6,144.5 L581.2,143.6 L581.4,145.0 L581.6,146.1 L581.9,147.8 L582.2,148.3 L581.7,149.6 L582.1,150.6 L582.2,151.8 L581.9,153.5 L582.5,155.5 L581.9,156.6 L582.8,158.0 L582.2,158.8 L582.6,159.5 L582.3,161.0 L582.8,162.4 L582.9,163.2 L582.8,165.0 L583.1,166.2 L583.0,168.0 L583.1,168.0 L582.6,170.0 L583.1,171.3 L583.2,172.5 L583.3,174.0 L583.0,174.3 L583.5,176.4 L583.0,177.3 L582.9,178.2 L583.5,180.1 L583.6,181.1 L583.5,183.1 L583.6,183.6 L583.6,185.2 L583.1,185.7 L583.4,188.0 L583.6,188.5 L583.6,187.3 L583.6,185.8 L584.4,184.4 L584.2,183.9 L583.6,182.0 L584.5,181.2 L583.8,179.5 L583.8,179.2 L583.8,178.0 L584.1,176.0 L584.4,175.6 L584.6,173.3 L584.2,172.2 L584.3,171.4 L584.2,170.8 L585.1,168.7 L585.2,167.5 L584.5,167.2 L584.6,165.7 L585.1,164.4 L585.2,162.9 L585.1,161.0 L584.6,160.3 L585.6,158.8 L584.9,158.6 L584.7,156.8 L584.8,155.1 L585.7,153.8 L585.8,153.3 L585.4,151.1 L585.1,150.4 L585.5,149.4 L585.6,147.7 L585.3,146.7 L586.3,145.4 L586.4,145.1 L586.3,143.2 L586.2,142.0 L586.0,140.6 L586.0,139.2 L586.0,138.1 L586.8,137.5 L587.0,135.3 L586.8,134.5 L586.6,134.3 L586.7,133.0 L586.4,131.5 L586.8,130.2 L586.9,129.2 L586.9,128.0 L587.3,126.6 L587.1,125.3 L587.5,123.4 L587.6,123.1 L587.8,121.3 L588.2,119.9 L587.7,118.6 L588.5,117.1 L588.1,116.6 L588.2,114.9 L588.2,114.1 L588.5,113.5 L588.5,111.7 L589.3,110.3 L589.3,112.2 L588.8,112.6 L590.0,114.3 L589.4,114.8 L589.7,117.2 L589.9,118.3 L590.6,119.7 L591.1,120.0 L591.0,122.2 L591.4,123.0 L592.5,124.7 L593.3,121.9 L594.5,120.4 L596.0,121.7 L596.9,122.7 L597.1,123.6 L596.9,125.3 L596.8,127.4 L597.6,127.9 L597.4,130.2 L598.0,130.4 L597.8,131.7 L597.8,133.8 L597.9,135.3 L597.8,136.5 L597.8,137.3 L598.7,138.8 L598.2,140.2 L598.4,140.9 L599.2,142.0 L598.7,143.1 L599.4,144.2 L599.2,145.3 L599.0,146.3 L599.8,147.7 L599.1,148.7 L599.2,151.1 L599.7,151.2 L599.9,153.5 L599.5,154.6 L599.7,155.4 L600.5,157.4 L600.7,157.7 L600.6,159.6 L600.9,160.7 L601.0,162.2 L600.4,162.3 L600.7,164.5 L601.2,165.4 L601.0,166.1 L601.4,167.9 L601.9,168.2 L601.7,170.2 L601.9,171.2 L602.0,172.8 L601.5,174.1 L601.5,175.5 L601.9,176.1 L602.0,177.1 L601.9,178.8 L602.4,179.7 L603.0,180.6 L602.6,182.3 L602.5,183.9 L602.8,184.5 L602.9,186.7 L603.2,186.8 L603.6,188.2 L603.1,189.8 L603.7,191.5 L603.5,193.1 L603.3,193.7 L603.5,194.4 L604.0,196.8 L603.4,197.8 L604.0,199.1 L603.7,199.7 L604.7,201.1 L603.8,200.4 L604.2,199.2 L604.4,197.5 L604.3,196.3 L604.8,194.5 L604.3,193.3 L604.9,192.4 L605.3,191.7 L604.7,189.4 L604.9,189.1 L605.1,187.6 L605.6,186.1 L604.9,184.7 L605.3,183.3 L605.3,183.1 L606.0,181.6 L605.7,179.8 L605.8,179.2 L605.2,177.3 L605.7,176.8 L605.5,174.4 L606.2,174.0 L605.4,172.4 L605.8,170.7 L606.4,169.5 L605.9,168.6 L606.6,168.2 L607.7,166.0 L607.2,164.5 L609.4,163.9 L609.7,164.5 L611.4,166.3 L612.2,168.6 L612.3,169.4 L613.2,169.1 L613.5,167.0 L613.0,166.6 L613.1,165.6 L613.8,164.2 L613.1,163.3 L613.7,161.8 L613.9,160.3 L614.0,159.1 L614.1,157.6 L614.6,156.2 L615.2,154.9 L614.8,154.0 L614.9,153.7 L615.5,151.2 L615.9,150.7 L616.5,148.8 L617.4,148.2 L617.3,145.7 L617.7,147.9 L618.5,149.4 L618.2,149.8 L619.0,151.9 L619.6,153.2 L619.5,153.5 L619.6,154.9 L620.5,157.4 L620.4,158.6 L620.6,156.7 L621.1,155.3 L621.5,154.4 L621.6,153.5 L621.7,152.1 L621.5,150.6 L621.9,149.5 L622.0,148.5 L622.5,146.8 L622.4,146.6 L623.1,144.0 L623.2,143.4 L623.4,141.8 L624.2,140.5 L624.7,139.3 L624.5,137.9 L626.1,137.1 L626.2,136.0 L627.8,136.4 L628.7,138.3 L629.2,138.6 L629.4,140.8 L629.3,141.5 L629.9,142.5 L629.7,144.4 L630.4,145.4 L630.1,146.9 L630.3,147.2 L630.8,148.4 L631.0,150.2 L631.0,151.3 L631.3,153.4 L631.2,154.1 L631.9,155.4 L631.3,156.6 L631.5,157.1 L631.6,158.3 L631.6,160.1 L632.1,161.9 L631.8,162.4 L631.9,163.6 L632.7,165.3 L632.5,167.0 L632.1,167.5 L632.6,168.8 L632.4,171.1 L632.5,172.3 L633.0,172.7 L632.4,173.8 L633.0,176.2 L633.0,177.2 L633.0,178.3 L632.7,179.4 L633.0,180.9 L632.8,181.1 L633.7,182.4 L633.6,184.8 L633.6,185.2 L633.5,187.0 L633.1,188.4 L633.8,189.5 L633.9,190.1 L634.0,191.8 L633.3,192.3 L634.3,194.2 L634.1,195.6 L633.7,197.0 L634.4,198.1 L634.7,198.1 L634.3,199.6 L634.5,201.4 L634.1,203.2 L634.1,203.9 L634.4,205.4 L634.5,206.0 L634.8,207.4 L634.8,208.8 L634.6,210.6 L634.8,211.1 L634.8,213.0 L635.4,213.3 L635.1,215.3 L634.8,215.8 L635.0,217.4 L635.6,219.2 L636.0,220.6 L635.2,221.2 L635.7,222.7 L636.3,224.1 L636.1,225.0 L635.9,225.5 L636.6,226.6 L636.1,229.2 L635.9,229.8 L636.8,230.6 L636.1,231.3 L636.0,233.9 L636.6,231.7 L636.3,231.1 L637.2,230.2 L636.7,228.0 L636.6,226.3 L637.0,224.9 L637.9,224.3 L637.8,223.1 L637.1,221.8 L637.8,220.9 L638.1,219.5 L637.7,217.7 L638.0,216.9 L638.6,215.0 L638.5,214.2 L638.6,212.8 L638.5,211.9 L638.9,210.2 L638.9,208.9 L639.0,208.2 L638.8,206.7 L639.2,206.6 L638.5,205.2 L638.7,204.1 L638.6,202.6 L638.7,200.8 L639.4,199.2 L638.9,199.2 L639.4,197.2 L638.8,195.7 L638.8,195.1 L639.7,193.4 L639.0,192.6 L640.0,191.0 L640.0,189.5 L640.0,188.9 L639.8,187.7 L639.7,185.8 L639.5,184.7 L639.4,184.2 L640.5,182.4 L639.6,181.9 L639.9,180.6 L640.7,179.2 L640.4,178.5 L640.6,177.4 L640.4,176.2 L640.9,174.5 L640.7,173.3 L641.3,171.1 L641.1,171.2 L640.7,169.9 L641.6,168.4 L641.6,166.5 L640.8,165.8 L641.5,165.0 L641.7,162.5 L641.2,161.7 L641.6,161.3 L642.2,160.1 L642.2,157.8 L641.8,156.7 L641.8,155.5 L642.8,154.9 L642.8,152.3 L642.3,151.8 L642.5,150.4 L642.9,148.8 L643.3,147.9 L643.5,147.3 L643.3,144.9 L643.5,144.1 L643.2,143.0 L643.1,141.1 L643.5,141.1 L643.4,139.5 L644.1,138.2 L644.4,136.4 L644.0,136.1 L644.2,133.8 L644.8,132.6 L644.7,131.2 L644.6,130.4 L645.2,129.7 L645.4,128.2 L645.8,126.3 L645.4,125.6 L646.1,124.0 L646.2,123.0 L646.9,121.1 L647.5,120.0 L648.2,117.9 L648.9,116.3 L648.8,117.2 L649.4,119.5 L650.2,121.3 L650.1,121.8 L650.3,122.8 L650.8,125.5 L651.0,126.5 L650.7,126.9 L651.2,128.1 L651.2,130.4 L650.7,130.8 L651.6,132.9 L650.7,132.8 L651.8,135.3 L651.8,136.2 L650.9,137.9 L651.6,138.6 L651.3,140.1 L651.3,141.0 L651.6,142.6 L650.9,143.9 L651.3,144.0 L651.1,145.9 L650.7,147.4 L650.9,148.5 L650.8,150.1 L651.6,148.0 L651.1,146.8 L651.8,146.5 L651.3,144.3 L652.0,142.8 L652.4,142.9 L652.4,141.2 L651.7,139.1 L651.9,138.4 L652.5,137.3 L652.5,136.3 L652.6,135.4 L652.4,133.0 L652.3,132.1 L652.4,130.7 L652.4,130.5 L652.7,128.6 L652.7,128.3 L653.5,125.9 L652.8,125.9 L653.2,124.0" fill="none" stroke="#00B0F0" stroke-width="6.1" stroke-linejoin="round" stroke-linecap="round"/>
<!-- axes -->
<g stroke="#000" stroke-width="1.8" fill="none">
<path d="M76,19.8V595.1H692.8"/>
<path d="M67,20.7H76M67,92.5H76M67,164.3H76M67,236.1H76M67,307.9H76M67,379.7H76M67,451.5H76M67,523.3H76M67,595.1H76"/>
<path d="M76,595V603.6M120,595V603.6M164,595V603.6M208,595V603.6M252,595V603.6M296,595V603.6M340,595V603.6M384,595V603.6M428,595V603.6M472,595V603.6M516,595V603.6M560,595V603.6M604,595V603.6M648,595V603.6M692,595V603.6"/>
</g>
<g class="ax" text-anchor="end">
<text x="50.8" y="27.6">7.6</text><text x="50.8" y="99.4">7.4</text><text x="50.8" y="171.2">7.2</text><text x="50.8" y="243">7.0</text><text x="50.8" y="314.8">6.8</text><text x="50.8" y="386.6">6.6</text><text x="50.8" y="458.4">6.4</text><text x="50.8" y="530.2">6.2</text><text x="50.8" y="602.8">6.0</text>
</g>
<g class="ax" text-anchor="middle">
<text x="76" y="638.4">12</text><text x="120" y="638.4">13</text><text x="164" y="638.4">14</text><text x="208" y="638.4">15</text><text x="252" y="638.4">16</text><text x="296" y="638.4">17</text><text x="340" y="638.4">18</text><text x="384" y="638.4">19</text><text x="428" y="638.4">20</text><text x="472" y="638.4">21</text><text x="516" y="638.4">22</text><text x="560" y="638.4">23</text><text x="604" y="638.4">24</text><text x="648" y="638.4">25</text>
</g>
<!-- legend -->
<path d="M88.9,20.4H135.6" stroke="#000" stroke-width="5" stroke-linecap="round"/>
<path d="M88.9,73.6H135.6" stroke="#00B0F0" stroke-width="5" stroke-linecap="round"/>
<text x="143" y="28.3" textLength="100.4" lengthAdjust="spacingAndGlyphs">$/CNY fix</text>
<text x="143" y="80.2" textLength="67.8" lengthAdjust="spacingAndGlyphs">$/CNY</text>
<!-- annotations -->
<text class="b bl" x="431.3" y="27.4" textLength="174.3" lengthAdjust="spacingAndGlyphs">$/CNY at upper</text>
<text class="b bl" x="431.3" y="60.9" textLength="175.7" lengthAdjust="spacingAndGlyphs">end of 2% band</text>
<text class="b bl" x="89.7" y="358.3" textLength="99.8" lengthAdjust="spacingAndGlyphs">$/CNY at</text>
<text class="b bl" x="90.4" y="392" textLength="114.9" lengthAdjust="spacingAndGlyphs">upper end</text>
<text class="b bl" x="90" y="425.1" textLength="126.2" lengthAdjust="spacingAndGlyphs">of 2% band</text>
<text class="b rd" x="234" y="128.2" textLength="136.4" lengthAdjust="spacingAndGlyphs">Trump tariff</text>
<text class="b rd" x="232.7" y="161.9" textLength="135.2" lengthAdjust="spacingAndGlyphs">devaluation</text>
<text x="260.3" y="521.8" textLength="403.8" lengthAdjust="spacingAndGlyphs">China's official $/CNY fix (black) with</text>
<text x="260.3" y="555.2" textLength="401.1" lengthAdjust="spacingAndGlyphs">the 2% band around it, within which</text>
<text x="260.3" y="588.2" textLength="225.4" lengthAdjust="spacingAndGlyphs">$/CNY (blue) moves.</text>
<!-- arrows -->
<polygon points="563.8,73.2 578.4,89.3 574.8,92.6 589.8,98.2 585.8,82.7 582.1,86.0 567.6,69.8" fill="#00B0F0"/>
<polygon points="195.8,441.9 210.4,458.2 206.7,461.5 221.7,467.2 217.8,451.7 214.1,454.9 199.6,438.5" fill="#00B0F0"/>
<polygon points="312.8,179.3 336.8,203.1 333.3,206.5 348.6,211.3 343.7,196.0 340.3,199.5 316.4,175.7" fill="#FF0000"/>
<!-- ellipse -->
<ellipse cx="365.7" cy="355.6" rx="22.9" ry="146.8" fill="none" stroke="#FF0000" stroke-width="4.7" stroke-dasharray="4.6 5.1" stroke-dashoffset="2"/>
</svg>
</body></html>
